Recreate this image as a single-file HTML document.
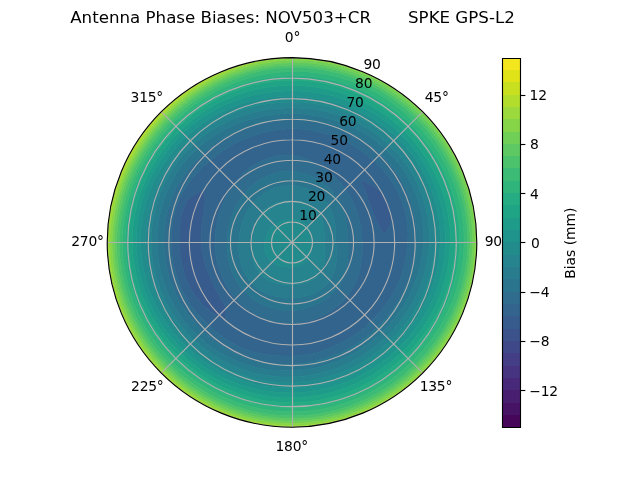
<!DOCTYPE html>
<html lang="en"><head><meta charset="utf-8"><title>Antenna Phase Biases</title>
<style>html,body{margin:0;padding:0;background:#fff;overflow:hidden}svg{display:block}
text{font-family:"DejaVu Sans","Liberation Sans",sans-serif;white-space:pre}</style></head><body>
<svg  width="640" height="480" viewBox="0 0 460.8 345.6"  version="1.1">
 
 <defs>
  <style type="text/css">*{stroke-linejoin: round; stroke-linecap: butt}</style>
 </defs>
 <g id="figure_1">
  <g id="patch_1">
   <path d="M 0 345.6 
L 460.8 345.6 
L 460.8 0 
L 0 0 
z
" style="fill: #ffffff"/>
  </g>
  <g id="axes_1">
   <g id="patch_2">
    <path d="M 343.296 174.528 
C 343.296 157.055246 339.854248 139.752393 333.167715 123.609673 
C 326.481182 107.466954 316.679903 92.798303 304.3248 80.4432 
C 291.969697 68.088097 277.301046 58.286818 261.158327 51.600285 
C 245.015607 44.913752 227.712754 41.472 210.24 41.472 
C 192.767246 41.472 175.464393 44.913752 159.321673 51.600285 
C 143.178954 58.286818 128.510303 68.088097 116.1552 80.4432 
C 103.800097 92.798303 93.998818 107.466954 87.312285 123.609673 
C 80.625752 139.752393 77.184 157.055246 77.184 174.528 
C 77.184 192.000754 80.625752 209.303607 87.312285 225.446327 
C 93.998818 241.589046 103.800097 256.257697 116.1552 268.6128 
C 128.510303 280.967903 143.178954 290.769182 159.321673 297.455715 
C 175.464393 304.142248 192.767246 307.584 210.24 307.584 
C 227.712754 307.584 245.015607 304.142248 261.158327 297.455715 
C 277.301046 290.769182 291.969697 280.967903 304.3248 268.6128 
C 316.679903 256.257697 326.481182 241.589046 333.167715 225.446327 
C 339.854248 209.303607 343.296 192.000754 343.296 174.528 
M 210.24 174.528 
C 210.24 174.528 210.24 174.528 210.24 174.528 
C 210.24 174.528 210.24 174.528 210.24 174.528 
C 210.24 174.528 210.24 174.528 210.24 174.528 
C 210.24 174.528 210.24 174.528 210.24 174.528 
C 210.24 174.528 210.24 174.528 210.24 174.528 
C 210.24 174.528 210.24 174.528 210.24 174.528 
C 210.24 174.528 210.24 174.528 210.24 174.528 
C 210.24 174.528 210.24 174.528 210.24 174.528 
C 210.24 174.528 210.24 174.528 210.24 174.528 
C 210.24 174.528 210.24 174.528 210.24 174.528 
C 210.24 174.528 210.24 174.528 210.24 174.528 
C 210.24 174.528 210.24 174.528 210.24 174.528 
C 210.24 174.528 210.24 174.528 210.24 174.528 
C 210.24 174.528 210.24 174.528 210.24 174.528 
C 210.24 174.528 210.24 174.528 210.24 174.528 
C 210.24 174.528 210.24 174.528 210.24 174.528 
z
" style="fill: #ffffff"/>
   </g>
   <g id="QuadContourSet_1">
    <path clip-path="url(#p66e2880055)" style="fill: #46075a; stroke: #46075a; stroke-width: 0.6"/>
    <path clip-path="url(#p66e2880055)" style="fill: #471365; stroke: #471365; stroke-width: 0.6"/>
    <path clip-path="url(#p66e2880055)" style="fill: #481f70; stroke: #481f70; stroke-width: 0.6"/>
    <path clip-path="url(#p66e2880055)" style="fill: #482979; stroke: #482979; stroke-width: 0.6"/>
    <path clip-path="url(#p66e2880055)" style="fill: #463480; stroke: #463480; stroke-width: 0.6"/>
    <path clip-path="url(#p66e2880055)" style="fill: #433e85; stroke: #433e85; stroke-width: 0.6"/>
    <path clip-path="url(#p66e2880055)" style="fill: #3f4889; stroke: #3f4889; stroke-width: 0.6"/>
    <path clip-path="url(#p66e2880055)" style="fill: #3b528b; stroke: #3b528b; stroke-width: 0.6"/>
    <path d="M 260.788544 132.112735 
L 263.067125 137.538049 
L 264.967466 142.931083 
L 266.79526 148.155849 
L 268.713859 153.245256 
L 270.83728 158.291008 
L 273.337498 163.402209 
L 276.384964 168.741065 
L 276.541145 169.038647 
L 276.800796 168.704685 
L 280.918313 162.065506 
L 282.002235 156.798139 
L 281.933389 155.317814 
L 280.571942 148.929267 
L 277.897983 142.978565 
L 274.709691 138.364131 
L 274.057517 137.682939 
L 268.520452 133.719588 
L 262.224507 130.907819 
L 259.619358 129.944889 
z
M 159.844202 216.815096 
L 157.056222 211.767682 
L 154.515341 206.700647 
L 152.144773 201.618249 
L 149.953046 196.470657 
L 148.027807 191.197707 
L 146.495194 185.767929 
L 145.443394 180.196968 
L 144.882078 174.528 
L 144.791866 168.80203 
L 145.177066 163.055649 
L 145.979619 157.309483 
L 145.980521 157.303187 
L 146.934519 151.486689 
L 147.672667 145.352373 
L 147.367073 138.228298 
L 147.107457 136.077403 
L 145.354122 137.066121 
L 138.448534 141.05109 
L 134.710906 144.411605 
L 133.512139 146.601342 
L 131.127814 153.329954 
L 129.843842 160.351988 
L 129.233263 167.440829 
L 129.21907 167.654122 
L 129.213174 174.528 
L 129.597882 181.583271 
L 130.592824 188.571946 
L 132.23106 195.430432 
L 134.535335 202.082244 
L 137.574028 208.412699 
L 141.404045 214.270457 
L 146.004639 219.506084 
L 151.239401 224.035381 
L 156.879112 227.888888 
L 162.723388 231.156093 
L 162.735698 231.162863 
L 162.732693 231.145004 
L 162.289159 222.478841 
L 162.201302 220.55254 
z
" clip-path="url(#p66e2880055)" style="fill: #375b8d; stroke: #375b8d; stroke-width: 0.6"/>
    <path d="M 256.993448 152.726509 
L 258.322591 157.027368 
L 259.340021 161.371689 
L 260.076383 165.740501 
L 260.566615 170.124992 
L 260.841066 174.528 
L 260.904708 178.960588 
L 260.711798 183.42754 
L 260.202568 187.91543 
L 260.179333 188.074384 
L 259.558433 192.478442 
L 258.465432 197.015888 
L 256.893167 201.463219 
L 254.848557 205.763248 
L 252.3544 209.866177 
L 249.441999 213.729999 
L 246.146828 217.320092 
L 242.504494 220.606473 
L 238.548641 223.560005 
L 234.312643 226.15195 
L 229.83109 228.354079 
L 225.140902 230.138924 
L 220.282226 231.480294 
L 215.299133 232.35415 
L 210.24 232.739907 
L 205.157244 232.624171 
L 200.104644 232.008462 
L 195.134309 230.903207 
L 190.295698 229.324519 
L 185.635386 227.292764 
L 181.197591 224.830928 
L 177.02556 221.963136 
L 173.162824 218.714858 
L 169.65111 215.11689 
L 166.520708 211.212842 
L 163.775827 207.062564 
L 161.401749 202.724778 
L 159.384149 198.242473 
L 157.724058 193.64224 
L 156.435316 188.944922 
L 155.527939 184.175213 
L 154.994235 179.361378 
L 154.809617 174.528 
L 154.948359 169.690608 
L 155.408085 164.859654 
L 156.195375 160.046786 
L 157.318527 155.266159 
L 158.788876 150.535947 
L 160.621875 145.880962 
L 162.832887 141.333182 
L 165.432296 136.929872 
L 168.424611 132.712611 
L 168.425152 132.711915 
L 171.641666 128.528297 
L 175.297737 124.625277 
L 179.39367 121.100589 
L 183.901659 118.045245 
L 188.769255 115.537612 
L 193.925272 113.640606 
L 199.285524 112.402077 
L 204.757017 111.857219 
L 210.24 112.032055 
L 210.24 108 
L 210.24 100.608 
L 210.24 93.216 
L 210.24 92.691421 
L 203.110383 93.036103 
L 196.038221 93.98571 
L 189.070159 95.521076 
L 182.246922 97.61765 
L 175.602248 100.247102 
L 169.16275 103.380116 
L 162.949637 106.990362 
L 156.982749 111.058479 
L 151.283579 115.571579 
L 145.871176 120.516143 
L 140.758429 125.87648 
L 135.992046 131.660924 
L 131.77739 137.940284 
L 128.388111 144.736349 
L 125.94358 151.940842 
L 124.369966 159.386796 
L 123.499759 166.939212 
L 123.247004 174.528 
L 123.649731 182.103667 
L 124.743072 189.603415 
L 126.523915 196.959657 
L 128.979342 204.104461 
L 132.102997 210.963883 
L 135.881779 217.458739 
L 140.267597 223.523204 
L 145.159914 229.136676 
L 150.428956 234.339044 
L 155.987912 239.183121 
L 161.848799 243.637797 
L 168.069597 247.56928 
L 174.667593 250.813272 
L 181.580937 253.268128 
L 188.692514 254.944313 
L 195.88412 255.94424 
L 203.078398 256.385485 
L 210.24 256.32714 
L 217.346922 255.760487 
L 224.368521 254.654825 
L 226.97376 254.099494 
L 231.21785 252.818403 
L 237.855545 250.401086 
L 244.271955 247.509763 
L 250.439993 244.156431 
L 256.33436 240.357569 
L 261.93227 236.132449 
L 267.215998 231.503998 
L 272.172738 226.495738 
L 276.781249 221.120684 
L 277.50999 220.205016 
L 280.796554 215.263845 
L 284.287586 209.056956 
L 287.270472 202.564799 
L 289.724365 195.825771 
L 291.628968 188.879071 
L 292.959423 181.765012 
L 293.680544 174.528 
L 293.747224 167.222065 
L 293.118125 159.91435 
L 291.756809 152.685637 
L 289.643368 145.627537 
L 286.786235 138.833904 
L 283.226118 132.389445 
L 279.031911 126.359385 
L 274.290002 120.783667 
L 269.089637 115.678363 
L 263.508703 111.044832 
L 257.604275 106.884805 
L 251.415703 103.209591 
L 244.973873 100.04097 
L 238.309878 97.406645 
L 231.459891 95.334289 
L 224.466191 93.847262 
L 217.376037 92.962729 
L 210.24 92.691421 
L 210.24 93.216 
L 210.24 100.608 
L 210.24 108 
L 210.24 112.032055 
L 215.628828 112.933411 
L 220.822994 114.508857 
L 225.738315 116.6875 
L 228.614317 118.319006 
L 230.35061 119.274553 
L 234.700284 122.072752 
L 238.717791 125.20302 
L 242.390256 128.612676 
L 245.709268 132.257372 
L 248.669609 136.098391 
L 251.268901 140.100665 
L 253.504809 144.233654 
L 255.395408 148.457513 
L 256.511025 151.36696 
z
M 259.619358 129.944889 
L 262.224507 130.907819 
L 268.520452 133.719588 
L 274.057517 137.682939 
L 274.709691 138.364131 
L 277.897983 142.978565 
L 280.571942 148.929267 
L 281.933389 155.317814 
L 282.002235 156.798139 
L 280.918313 162.065506 
L 276.800796 168.704685 
L 276.541145 169.038647 
L 276.384964 168.741065 
L 273.337498 163.402209 
L 270.83728 158.291008 
L 268.713859 153.245256 
L 266.79526 148.155849 
L 264.967466 142.931083 
L 263.067125 137.538049 
L 260.788544 132.112735 
z
M 162.201302 220.55254 
L 162.289159 222.478841 
L 162.732693 231.145004 
L 162.735698 231.162863 
L 162.723388 231.156093 
L 156.879112 227.888888 
L 151.239401 224.035381 
L 146.004639 219.506084 
L 141.404045 214.270457 
L 137.574028 208.412699 
L 134.535335 202.082244 
L 132.23106 195.430432 
L 130.592824 188.571946 
L 129.597882 181.583271 
L 129.213174 174.528 
L 129.21907 167.654122 
L 129.233263 167.440829 
L 129.843842 160.351988 
L 131.127814 153.329954 
L 133.512139 146.601342 
L 134.710906 144.411605 
L 138.448534 141.05109 
L 145.354122 137.066121 
L 147.107457 136.077403 
L 147.367073 138.228298 
L 147.672667 145.352373 
L 146.934519 151.486689 
L 145.980521 157.303187 
L 145.979619 157.309483 
L 145.177066 163.055649 
L 144.791866 168.80203 
L 144.882078 174.528 
L 145.443394 180.196968 
L 146.495194 185.767929 
L 148.027807 191.197707 
L 149.953046 196.470657 
L 152.144773 201.618249 
L 154.515341 206.700647 
L 157.056222 211.767682 
L 159.844202 216.815096 
z
" clip-path="url(#p66e2880055)" style="fill: #32648e; stroke: #32648e; stroke-width: 0.6"/>
    <path d="M 246.259584 149.306816 
L 247.621724 152.945652 
L 248.648266 156.617932 
L 249.372368 160.284983 
L 249.844067 163.916122 
L 250.128727 167.494541 
L 250.301139 171.023104 
L 250.433993 174.528 
L 250.56396 178.055889 
L 250.630133 181.64987 
L 250.540185 185.326402 
L 250.205295 189.074178 
L 249.551571 192.859287 
L 248.525345 196.632054 
L 248.295698 197.306581 
L 247.138994 200.364953 
L 245.31413 203.95869 
L 243.053526 207.341526 
L 240.38966 210.458966 
L 237.376191 213.282497 
L 234.063811 215.792052 
L 230.497519 217.970391 
L 226.718847 219.803261 
L 222.76702 221.279476 
L 218.679514 222.390864 
L 214.492303 223.132044 
L 210.24 223.5 
L 205.956324 223.490637 
L 201.677028 223.091028 
L 197.441983 222.29085 
L 193.294025 221.086684 
L 189.277422 219.482395 
L 185.436559 217.488821 
L 181.81501 215.123093 
L 178.454995 212.407893 
L 175.39705 209.37095 
L 172.676214 206.047759 
L 170.309231 202.487825 
L 168.301915 198.740964 
L 166.653623 194.852661 
L 165.358587 190.863498 
L 164.406173 186.809137 
L 163.780591 182.720047 
L 163.461274 178.620608 
L 163.42431 174.528 
L 163.649679 170.451875 
L 164.139054 166.399159 
L 164.900475 162.379311 
L 165.942484 158.405023 
L 167.273462 154.492374 
L 168.900968 150.660899 
L 170.831061 146.933564 
L 173.067598 143.336651 
L 175.611567 139.899567 
L 178.461092 136.655373 
L 181.612724 133.644012 
L 185.058058 130.911596 
L 188.781107 128.509255 
L 192.756152 126.491523 
L 196.945811 124.91341 
L 201.299887 123.826097 
L 205.755641 123.271545 
L 210.24 123.2768 
L 210.24 122.784 
L 210.24 115.392 
L 210.24 112.032055 
L 204.757017 111.857219 
L 199.285524 112.402077 
L 193.925272 113.640606 
L 188.769255 115.537612 
L 183.901659 118.045245 
L 179.39367 121.100589 
L 175.297737 124.625277 
L 171.641666 128.528297 
L 168.425152 132.711915 
L 168.424611 132.712611 
L 165.432296 136.929872 
L 162.832887 141.333182 
L 160.621875 145.880962 
L 158.788876 150.535947 
L 157.318527 155.266159 
L 156.195375 160.046786 
L 155.408085 164.859654 
L 154.948359 169.690608 
L 154.809617 174.528 
L 154.994235 179.361378 
L 155.527939 184.175213 
L 156.435316 188.944922 
L 157.724058 193.64224 
L 159.384149 198.242473 
L 161.401749 202.724778 
L 163.775827 207.062564 
L 166.520708 211.212842 
L 169.65111 215.11689 
L 173.162824 218.714858 
L 177.02556 221.963136 
L 181.197591 224.830928 
L 185.635386 227.292764 
L 190.295698 229.324519 
L 195.134309 230.903207 
L 200.104644 232.008462 
L 205.157244 232.624171 
L 210.24 232.739907 
L 215.299133 232.35415 
L 220.282226 231.480294 
L 225.140902 230.138924 
L 229.83109 228.354079 
L 234.312643 226.15195 
L 238.548641 223.560005 
L 242.504494 220.606473 
L 246.146828 217.320092 
L 249.441999 213.729999 
L 252.3544 209.866177 
L 254.848557 205.763248 
L 256.893167 201.463219 
L 258.465432 197.015888 
L 259.558433 192.478442 
L 260.179333 188.074384 
L 260.202568 187.91543 
L 260.711798 183.42754 
L 260.904708 178.960588 
L 260.841066 174.528 
L 260.566615 170.124992 
L 260.076383 165.740501 
L 259.340021 161.371689 
L 258.322591 157.027368 
L 256.993448 152.726509 
L 256.511025 151.36696 
L 255.395408 148.457513 
L 253.504809 144.233654 
L 251.268901 140.100665 
L 248.669609 136.098391 
L 245.709268 132.257372 
L 242.390256 128.612676 
L 238.717791 125.20302 
L 234.700284 122.072752 
L 230.35061 119.274553 
L 228.614317 118.319006 
L 225.738315 116.6875 
L 220.822994 114.508857 
L 215.628828 112.933411 
L 210.24 112.032055 
L 210.24 115.392 
L 210.24 122.784 
L 210.24 123.2768 
L 214.674521 123.841194 
L 218.988084 124.915149 
L 223.125836 126.437405 
L 227.047071 128.350951 
L 230.721087 130.606167 
L 234.123152 133.161167 
L 237.231121 135.980684 
L 240.022637 139.034436 
L 242.472526 142.295474 
L 244.552575 145.736331 
L 245.501547 147.625896 
z
M 276.781249 221.120684 
L 272.172738 226.495738 
L 267.215998 231.503998 
L 261.93227 236.132449 
L 256.33436 240.357569 
L 250.439993 244.156431 
L 244.271955 247.509763 
L 237.855545 250.401086 
L 231.21785 252.818403 
L 226.97376 254.099494 
L 224.368521 254.654825 
L 217.346922 255.760487 
L 210.24 256.32714 
L 203.078398 256.385485 
L 195.88412 255.94424 
L 188.692514 254.944313 
L 181.580937 253.268128 
L 174.667593 250.813272 
L 168.069597 247.56928 
L 161.848799 243.637797 
L 155.987912 239.183121 
L 150.428956 234.339044 
L 145.159914 229.136676 
L 140.267597 223.523204 
L 135.881779 217.458739 
L 132.102997 210.963883 
L 128.979342 204.104461 
L 126.523915 196.959657 
L 124.743072 189.603415 
L 123.649731 182.103667 
L 123.247004 174.528 
L 123.499759 166.939212 
L 124.369966 159.386796 
L 125.94358 151.940842 
L 128.388111 144.736349 
L 131.77739 137.940284 
L 135.992046 131.660924 
L 140.758429 125.87648 
L 145.871176 120.516143 
L 151.283579 115.571579 
L 156.982749 111.058479 
L 162.949637 106.990362 
L 169.16275 103.380116 
L 175.602248 100.247102 
L 182.246922 97.61765 
L 189.070159 95.521076 
L 196.038221 93.98571 
L 203.110383 93.036103 
L 210.24 92.691421 
L 210.24 86.150452 
L 202.531587 86.420433 
L 194.85572 87.279411 
L 191.211707 87.888958 
L 187.261383 88.770633 
L 179.806374 90.912299 
L 172.52904 93.656584 
L 165.475283 96.993236 
L 158.69322 100.911569 
L 152.235359 105.400761 
L 146.160385 110.448385 
L 140.529928 116.034305 
L 135.394202 122.120408 
L 130.795311 128.660587 
L 126.798903 135.618777 
L 123.505391 142.959184 
L 120.990594 150.613694 
L 119.252748 158.484492 
L 118.246523 166.479614 
L 117.951383 174.528 
L 118.378406 182.564848 
L 119.53475 190.521783 
L 121.412395 198.329285 
L 123.993919 205.919006 
L 127.256082 213.224036 
L 131.166633 220.18103 
L 135.678325 226.736647 
L 140.728054 232.855448 
L 146.247796 238.520204 
L 152.184953 243.715311 
L 158.514881 248.399126 
L 165.225388 252.495595 
L 172.287481 255.91744 
L 179.638747 258.60425 
L 187.190716 260.549098 
L 193.293846 261.598245 
L 194.856993 261.76937 
L 202.564184 262.262976 
L 210.24 262.182551 
L 217.851791 261.531166 
L 225.362973 260.294643 
L 232.730615 258.46412 
L 239.909431 256.044091 
L 246.855572 253.050348 
L 253.52834 249.505603 
L 259.890714 245.436568 
L 265.90966 240.872517 
L 271.556544 235.844544 
L 276.805055 230.382713 
L 281.621861 224.510117 
L 285.971718 218.251728 
L 289.82003 211.636778 
L 293.132783 204.698506 
L 295.875623 197.473996 
L 296.123904 196.717066 
L 297.907315 189.986113 
L 299.273043 182.317382 
L 299.951213 174.528 
L 299.911305 166.682777 
L 299.13512 158.853392 
L 297.613233 151.116413 
L 295.346811 143.551654 
L 292.35088 136.239068 
L 288.65562 129.254721 
L 284.305409 122.666842 
L 279.355834 116.532929 
L 273.86923 110.89877 
L 267.911305 105.798016 
L 261.54954 101.250383 
L 254.844408 97.2709 
L 247.849527 93.874109 
L 240.614738 91.074093 
L 235.205036 89.409573 
L 233.183316 88.902379 
L 225.605755 87.384475 
L 217.944163 86.469017 
L 210.24 86.150452 
L 210.24 92.691421 
L 217.376037 92.962729 
L 224.466191 93.847262 
L 231.459891 95.334289 
L 238.309878 97.406645 
L 244.973873 100.04097 
L 251.415703 103.209591 
L 257.604275 106.884805 
L 263.508703 111.044832 
L 269.089637 115.678363 
L 274.290002 120.783667 
L 279.031911 126.359385 
L 283.226118 132.389445 
L 286.786235 138.833904 
L 289.643368 145.627537 
L 291.756809 152.685637 
L 293.118125 159.91435 
L 293.747224 167.222065 
L 293.680544 174.528 
L 292.959423 181.765012 
L 291.628968 188.879071 
L 289.724365 195.825771 
L 287.270472 202.564799 
L 284.287586 209.056956 
L 280.796554 215.263845 
L 277.50999 220.205016 
z
" clip-path="url(#p66e2880055)" style="fill: #2f6c8e; stroke: #2f6c8e; stroke-width: 0.6"/>
    <path d="M 238.270392 151.007708 
L 239.500191 154.039793 
L 240.402254 157.113814 
L 241.019168 160.175438 
L 241.403365 163.185463 
L 241.614766 166.121157 
L 241.717978 168.977583 
L 241.77899 171.768696 
L 241.861333 174.528 
L 242.002943 177.306897 
L 242.156848 180.155801 
L 242.250039 183.105064 
L 242.206705 186.162929 
L 241.952482 189.315773 
L 241.418436 192.528879 
L 240.580788 195.634354 
L 240.543043 195.746419 
L 239.22228 198.84702 
L 237.475074 201.763074 
L 235.322402 204.420043 
L 232.825355 206.78323 
L 230.046736 208.834273 
L 227.043085 210.562332 
L 223.865763 211.964476 
L 220.560855 213.045955 
L 217.168244 213.820026 
L 213.720207 214.30695 
L 210.24 214.531765 
L 206.741812 214.51247 
L 203.239025 214.232504 
L 199.75269 213.667174 
L 196.311892 212.795162 
L 192.952557 211.601041 
L 189.715873 210.076831 
L 186.646713 208.222706 
L 183.792333 206.047102 
L 181.201528 203.566472 
L 178.918897 200.809526 
L 176.965053 197.827369 
L 175.346817 194.673589 
L 174.061855 191.398146 
L 173.098912 188.046251 
L 172.438349 184.656922 
L 172.053187 181.261365 
L 171.910821 177.881369 
L 171.975532 174.528 
L 172.219399 171.201628 
L 172.648347 167.899577 
L 173.279261 164.6244 
L 174.130039 161.385049 
L 175.21742 158.196703 
L 176.555281 155.080119 
L 178.153429 152.060741 
L 180.016834 149.167753 
L 182.145233 146.433233 
L 184.531423 143.889711 
L 187.158214 141.563793 
L 190.005597 139.480986 
L 193.051832 137.667854 
L 196.272324 136.152125 
L 199.638333 134.962041 
L 203.115778 134.124529 
L 206.664682 133.661932 
L 210.24 133.587692 
L 210.24 130.176 
L 210.24 123.2768 
L 205.755641 123.271545 
L 201.299887 123.826097 
L 196.945811 124.91341 
L 192.756152 126.491523 
L 188.781107 128.509255 
L 185.058058 130.911596 
L 181.612724 133.644012 
L 178.461092 136.655373 
L 175.611567 139.899567 
L 173.067598 143.336651 
L 170.831061 146.933564 
L 168.900968 150.660899 
L 167.273462 154.492374 
L 165.942484 158.405023 
L 164.900475 162.379311 
L 164.139054 166.399159 
L 163.649679 170.451875 
L 163.42431 174.528 
L 163.461274 178.620608 
L 163.780591 182.720047 
L 164.406173 186.809137 
L 165.358587 190.863498 
L 166.653623 194.852661 
L 168.301915 198.740964 
L 170.309231 202.487825 
L 172.676214 206.047759 
L 175.39705 209.37095 
L 178.454995 212.407893 
L 181.81501 215.123093 
L 185.436559 217.488821 
L 189.277422 219.482395 
L 193.294025 221.086684 
L 197.441983 222.29085 
L 201.677028 223.091028 
L 205.956324 223.490637 
L 210.24 223.5 
L 214.492303 223.132044 
L 218.679514 222.390864 
L 222.76702 221.279476 
L 226.718847 219.803261 
L 230.497519 217.970391 
L 234.063811 215.792052 
L 237.376191 213.282497 
L 240.38966 210.458966 
L 243.053526 207.341526 
L 245.31413 203.95869 
L 247.138994 200.364953 
L 248.295698 197.306581 
L 248.525345 196.632054 
L 249.551571 192.859287 
L 250.205295 189.074178 
L 250.540185 185.326402 
L 250.630133 181.64987 
L 250.56396 178.055889 
L 250.433993 174.528 
L 250.301139 171.023104 
L 250.128727 167.494541 
L 249.844067 163.916122 
L 249.372368 160.284983 
L 248.648266 156.617932 
L 247.621724 152.945652 
L 246.259584 149.306816 
L 245.501547 147.625896 
L 244.552575 145.736331 
L 242.472526 142.295474 
L 240.022637 139.034436 
L 237.231121 135.980684 
L 234.123152 133.161167 
L 230.721087 130.606167 
L 227.047071 128.350951 
L 223.125836 126.437405 
L 218.988084 124.915149 
L 214.674521 123.841194 
L 210.24 123.2768 
L 210.24 130.176 
L 210.24 133.587692 
L 213.794302 133.902144 
L 217.281758 134.592206 
L 220.660659 135.637573 
L 223.893491 137.015342 
L 226.945724 138.702458 
L 229.78413 140.676575 
L 232.375006 142.915935 
L 234.682273 145.398834 
L 236.665052 148.102948 
L 237.569491 149.645466 
z
M 217.944163 86.469017 
L 225.605755 87.384475 
L 233.183316 88.902379 
L 235.205036 89.409573 
L 240.614738 91.074093 
L 247.849527 93.874109 
L 254.844408 97.2709 
L 261.54954 101.250383 
L 267.911305 105.798016 
L 273.86923 110.89877 
L 279.355834 116.532929 
L 284.305409 122.666842 
L 288.65562 129.254721 
L 292.35088 136.239068 
L 295.346811 143.551654 
L 297.613233 151.116413 
L 299.13512 158.853392 
L 299.911305 166.682777 
L 299.951213 174.528 
L 299.273043 182.317382 
L 297.907315 189.986113 
L 296.123904 196.717066 
L 295.875623 197.473996 
L 293.132783 204.698506 
L 289.82003 211.636778 
L 285.971718 218.251728 
L 281.621861 224.510117 
L 276.805055 230.382713 
L 271.556544 235.844544 
L 265.90966 240.872517 
L 259.890714 245.436568 
L 253.52834 249.505603 
L 246.855572 253.050348 
L 239.909431 256.044091 
L 232.730615 258.46412 
L 225.362973 260.294643 
L 217.851791 261.531166 
L 210.24 262.182551 
L 202.564184 262.262976 
L 194.856993 261.76937 
L 193.293846 261.598245 
L 187.190716 260.549098 
L 179.638747 258.60425 
L 172.287481 255.91744 
L 165.225388 252.495595 
L 158.514881 248.399126 
L 152.184953 243.715311 
L 146.247796 238.520204 
L 140.728054 232.855448 
L 135.678325 226.736647 
L 131.166633 220.18103 
L 127.256082 213.224036 
L 123.993919 205.919006 
L 121.412395 198.329285 
L 119.53475 190.521783 
L 118.378406 182.564848 
L 117.951383 174.528 
L 118.246523 166.479614 
L 119.252748 158.484492 
L 120.990594 150.613694 
L 123.505391 142.959184 
L 126.798903 135.618777 
L 130.795311 128.660587 
L 135.394202 122.120408 
L 140.529928 116.034305 
L 146.160385 110.448385 
L 152.235359 105.400761 
L 158.69322 100.911569 
L 165.475283 96.993236 
L 172.52904 93.656584 
L 179.806374 90.912299 
L 187.261383 88.770633 
L 191.211707 87.888958 
L 194.85572 87.279411 
L 202.531587 86.420433 
L 210.24 86.150452 
L 210.24 85.824 
L 210.24 81.811004 
L 202.151967 82.081365 
L 194.094344 82.961433 
L 186.105812 84.457985 
L 178.227643 86.574772 
L 170.504274 89.31446 
L 162.985153 92.680204 
L 155.727758 96.676451 
L 148.801294 101.308201 
L 142.291258 106.576475 
L 142.289801 106.577801 
L 136.37398 112.54705 
L 131.035137 119.068158 
L 126.321338 126.077538 
L 122.275307 133.50939 
L 118.935706 141.295955 
L 116.33362 149.365861 
L 114.487467 157.644245 
L 113.404693 166.056008 
L 113.08695 174.528 
L 113.531755 182.988875 
L 114.733342 191.368401 
L 116.679622 199.597428 
L 119.352011 207.608523 
L 122.726007 215.336445 
L 126.771326 222.718661 
L 131.451849 229.696057 
L 133.481958 232.343606 
L 136.758642 236.18618 
L 142.629475 242.138525 
L 148.980625 247.53408 
L 155.753419 252.342903 
L 162.897813 256.527073 
L 170.364697 260.040864 
L 178.095311 262.844808 
L 186.018908 264.922345 
L 194.060637 266.285725 
L 202.152906 266.963906 
L 210.24 266.981674 
L 218.273367 266.349805 
L 226.205375 265.072139 
L 233.987507 263.154903 
L 241.57167 260.611056 
L 248.911833 257.460014 
L 255.96493 253.725902 
L 262.691231 249.436121 
L 269.054565 244.620469 
L 275.022524 239.310524 
L 280.564308 233.537101 
L 285.642208 227.325194 
L 290.216237 220.702302 
L 294.246539 213.700892 
L 297.69368 206.358536 
L 300.518743 198.718116 
L 302.683313 190.82825 
L 304.149752 182.744039 
L 304.88233 174.528 
L 304.851446 166.250571 
L 304.04217 157.988147 
L 302.450258 149.820336 
L 300.081315 141.828435 
L 296.951016 134.093989 
L 293.084983 126.697427 
L 288.519008 119.716449 
L 283.299674 113.223655 
L 277.484611 107.283389 
L 271.144586 101.944741 
L 264.365851 97.228274 
L 257.229076 93.140533 
L 249.803755 89.683253 
L 242.149799 86.856547 
L 234.320135 84.659711 
L 226.362888 83.090558 
L 218.322543 82.144113 
L 210.24 81.811004 
L 210.24 85.824 
L 210.24 86.150452 
z
" clip-path="url(#p66e2880055)" style="fill: #2b748e; stroke: #2b748e; stroke-width: 0.6"/>
    <path d="M 228.909412 152.278661 
L 230.276578 154.491422 
L 231.301158 156.85559 
L 232.042363 159.261821 
L 232.570458 161.635504 
L 232.942802 163.941509 
L 233.202092 166.170482 
L 233.37929 168.327846 
L 233.498106 170.426968 
L 233.579755 172.486036 
L 233.648 174.528 
L 233.723777 176.582564 
L 233.793731 178.681158 
L 233.839125 180.851366 
L 233.840673 183.117943 
L 233.771995 185.50115 
L 233.592177 188.010386 
L 233.237964 190.631348 
L 232.618875 193.306106 
L 232.286174 194.231625 
L 231.4552 195.7432 
L 229.828502 197.872668 
L 227.88308 199.72493 
L 225.686029 201.281307 
L 223.301003 202.537412 
L 220.786066 203.503079 
L 218.191019 204.201608 
L 215.554488 204.667957 
L 212.901191 204.945556 
L 210.24 205.0816 
L 207.564622 205.107709 
L 204.867679 204.995948 
L 202.15481 204.702341 
L 199.44552 204.185591 
L 196.771572 203.411137 
L 194.174774 202.353788 
L 191.704743 200.99909 
L 189.417069 199.343802 
L 187.372167 197.395833 
L 185.626342 195.181311 
L 184.200301 192.761194 
L 183.094874 190.200246 
L 182.29782 187.557652 
L 181.783707 184.885244 
L 181.514523 182.224968 
L 181.461329 181.314363 
L 181.385824 179.61577 
L 181.363064 177.054404 
L 181.450105 174.528 
L 181.634399 172.025334 
L 181.930271 169.536231 
L 182.353767 167.055906 
L 182.917865 164.583556 
L 183.63573 162.122225 
L 184.185749 160.547921 
L 184.531536 159.685211 
L 185.662866 157.318906 
L 187.043943 155.064197 
L 188.6789 152.9669 
L 190.558058 151.071975 
L 192.647488 149.40329 
L 194.909377 147.974582 
L 197.307319 146.793777 
L 199.806575 145.862401 
L 202.374935 145.175177 
L 204.984065 144.720113 
L 207.611095 144.479483 
L 210.24 144.432 
L 210.24 137.568 
L 210.24 133.587692 
L 206.664682 133.661932 
L 203.115778 134.124529 
L 199.638333 134.962041 
L 196.272324 136.152125 
L 193.051832 137.667854 
L 190.005597 139.480986 
L 187.158214 141.563793 
L 184.531423 143.889711 
L 182.145233 146.433233 
L 180.016834 149.167753 
L 178.153429 152.060741 
L 176.555281 155.080119 
L 175.21742 158.196703 
L 174.130039 161.385049 
L 173.279261 164.6244 
L 172.648347 167.899577 
L 172.219399 171.201628 
L 171.975532 174.528 
L 171.910821 177.881369 
L 172.053187 181.261365 
L 172.438349 184.656922 
L 173.098912 188.046251 
L 174.061855 191.398146 
L 175.346817 194.673589 
L 176.965053 197.827369 
L 178.918897 200.809526 
L 181.201528 203.566472 
L 183.792333 206.047102 
L 186.646713 208.222706 
L 189.715873 210.076831 
L 192.952557 211.601041 
L 196.311892 212.795162 
L 199.75269 213.667174 
L 203.239025 214.232504 
L 206.741812 214.51247 
L 210.24 214.531765 
L 213.720207 214.30695 
L 217.168244 213.820026 
L 220.560855 213.045955 
L 223.865763 211.964476 
L 227.043085 210.562332 
L 230.046736 208.834273 
L 232.825355 206.78323 
L 235.322402 204.420043 
L 237.475074 201.763074 
L 239.22228 198.84702 
L 240.543043 195.746419 
L 240.580788 195.634354 
L 241.418436 192.528879 
L 241.952482 189.315773 
L 242.206705 186.162929 
L 242.250039 183.105064 
L 242.156848 180.155801 
L 242.002943 177.306897 
L 241.861333 174.528 
L 241.77899 171.768696 
L 241.717978 168.977583 
L 241.614766 166.121157 
L 241.403365 163.185463 
L 241.019168 160.175438 
L 240.402254 157.113814 
L 239.500191 154.039793 
L 238.270392 151.007708 
L 237.569491 149.645466 
L 236.665052 148.102948 
L 234.682273 145.398834 
L 232.375006 142.915935 
L 229.78413 140.676575 
L 226.945724 138.702458 
L 223.893491 137.015342 
L 220.660659 135.637573 
L 217.281758 134.592206 
L 213.794302 133.902144 
L 210.24 133.587692 
L 210.24 137.568 
L 210.24 144.432 
L 212.861486 144.564281 
L 215.464703 144.897236 
L 218.029121 145.458606 
L 220.524882 146.270519 
L 222.914839 147.34672 
L 225.156796 148.691351 
L 227.205422 150.298866 
L 227.256667 150.347436 
z
M 218.322543 82.144113 
L 226.362888 83.090558 
L 234.320135 84.659711 
L 242.149799 86.856547 
L 249.803755 89.683253 
L 257.229076 93.140533 
L 264.365851 97.228274 
L 271.144586 101.944741 
L 277.484611 107.283389 
L 283.299674 113.223655 
L 288.519008 119.716449 
L 293.084983 126.697427 
L 296.951016 134.093989 
L 300.081315 141.828435 
L 302.450258 149.820336 
L 304.04217 157.988147 
L 304.851446 166.250571 
L 304.88233 174.528 
L 304.149752 182.744039 
L 302.683313 190.82825 
L 300.518743 198.718116 
L 297.69368 206.358536 
L 294.246539 213.700892 
L 290.216237 220.702302 
L 285.642208 227.325194 
L 280.564308 233.537101 
L 275.022524 239.310524 
L 269.054565 244.620469 
L 262.691231 249.436121 
L 255.96493 253.725902 
L 248.911833 257.460014 
L 241.57167 260.611056 
L 233.987507 263.154903 
L 226.205375 265.072139 
L 218.273367 266.349805 
L 210.24 266.981674 
L 202.152906 266.963906 
L 194.060637 266.285725 
L 186.018908 264.922345 
L 178.095311 262.844808 
L 170.364697 260.040864 
L 162.897813 256.527073 
L 155.753419 252.342903 
L 148.980625 247.53408 
L 142.629475 242.138525 
L 136.758642 236.18618 
L 133.481958 232.343606 
L 131.451849 229.696057 
L 126.771326 222.718661 
L 122.726007 215.336445 
L 119.352011 207.608523 
L 116.679622 199.597428 
L 114.733342 191.368401 
L 113.531755 182.988875 
L 113.08695 174.528 
L 113.404693 166.056008 
L 114.487467 157.644245 
L 116.33362 149.365861 
L 118.935706 141.295955 
L 122.275307 133.50939 
L 126.321338 126.077538 
L 131.035137 119.068158 
L 136.37398 112.54705 
L 142.289801 106.577801 
L 142.291258 106.576475 
L 148.801294 101.308201 
L 155.727758 96.676451 
L 162.985153 92.680204 
L 170.504274 89.31446 
L 178.227643 86.574772 
L 186.105812 84.457985 
L 194.094344 82.961433 
L 202.151967 82.081365 
L 210.24 81.811004 
L 210.24 78.432 
L 210.24 77.610635 
L 201.783305 77.867537 
L 193.350746 78.74428 
L 184.982387 80.265306 
L 176.727238 82.452444 
L 168.642722 85.32235 
L 160.793616 88.884351 
L 153.250636 93.138754 
L 146.088841 98.075626 
L 139.385985 103.673985 
L 133.217701 109.898618 
L 127.644789 116.69421 
L 122.719309 123.997906 
L 118.487593 131.74315 
L 114.990151 139.85989 
L 112.259963 148.274328 
L 110.320545 156.909504 
L 109.186274 165.686945 
L 108.863641 174.528 
L 109.351078 183.354637 
L 110.638192 192.090486 
L 112.707012 200.661885 
L 115.533166 208.998469 
L 119.08671 217.033477 
L 123.332637 224.70399 
L 128.231147 231.951217 
L 133.737942 238.720848 
L 139.80487 244.96313 
L 146.380804 250.632427 
L 153.411907 255.686928 
L 160.842065 260.087733 
L 168.611857 263.799841 
L 176.65726 266.795819 
L 184.910333 269.059602 
L 193.302202 270.587026 
L 201.766323 271.382567 
L 210.24 271.455299 
L 218.6642 270.817051 
L 226.983003 269.482287 
L 235.143363 267.468616 
L 241.406533 265.429531 
L 243.094342 264.794563 
L 250.787152 261.481649 
L 258.181289 257.564748 
L 265.236842 253.07163 
L 271.91738 248.032239 
L 278.188145 242.480121 
L 278.190165 242.478165 
L 284.008436 236.427067 
L 289.337369 229.912574 
L 294.132055 222.9631 
L 298.347183 215.613054 
L 301.937798 207.903269 
L 304.8602 199.881406 
L 307.073015 191.602273 
L 308.538465 183.128001 
L 309.223858 174.528 
L 309.105303 165.878407 
L 308.175469 157.259334 
L 306.438414 148.751713 
L 303.907469 140.435829 
L 300.604849 132.390179 
L 296.561083 124.6905 
L 291.814351 117.409024 
L 286.409778 110.613967 
L 280.398774 104.369226 
L 273.841031 98.731243 
L 266.809963 93.73772 
L 259.381198 89.412949 
L 251.628299 85.770506 
L 243.621271 82.813711 
L 235.424962 80.536443 
L 227.097484 78.924456 
L 218.688844 77.957266 
L 210.24 77.610635 
L 210.24 78.432 
L 210.24 81.811004 
z
" clip-path="url(#p66e2880055)" style="fill: #287c8e; stroke: #287c8e; stroke-width: 0.6"/>
    <path d="M 224.061971 169.497214 
L 224.201408 170.787052 
L 224.28538 172.05142 
L 224.33031 173.295258 
L 224.352 174.528 
L 224.361225 175.763447 
L 224.347592 177.015549 
L 224.295438 178.294143 
L 224.21817 179.342293 
L 224.173613 179.59942 
L 223.918787 180.906523 
L 223.582839 182.231492 
L 223.149777 183.567523 
L 222.597715 184.897354 
L 221.900082 186.188082 
L 221.03564 187.393743 
L 220.0107 188.482005 
L 218.845582 189.433305 
L 217.56582 190.238271 
L 216.197768 190.896834 
L 214.765132 191.416021 
L 213.286856 191.807578 
L 211.776144 192.086205 
L 210.24 192.2688 
L 208.679075 192.369454 
L 207.091699 192.382903 
L 205.478498 192.298168 
L 203.8433 192.102789 
L 202.194221 191.78223 
L 200.545284 191.319741 
L 198.918341 190.697005 
L 197.344755 189.895955 
L 195.865933 188.902067 
L 194.527433 187.712409 
L 193.359089 186.348141 
L 192.378662 184.840248 
L 191.595142 183.22224 
L 191.010069 181.527123 
L 190.619416 179.78532 
L 190.415495 178.023595 
L 190.388564 176.264776 
L 190.528 174.528 
L 190.823727 172.829296 
L 191.267972 171.18272 
L 191.852292 169.601029 
L 192.566922 168.095526 
L 193.401021 166.675855 
L 194.34297 165.349845 
L 195.380708 164.123412 
L 196.502107 163.000539 
L 197.69536 161.98336 
L 198.949623 161.072653 
L 200.25602 160.269399 
L 201.606661 159.574619 
L 202.994153 158.989231 
L 204.41141 158.514082 
L 205.851507 158.149921 
L 207.307566 157.897339 
L 208.7727 157.75669 
L 210.24 157.728 
L 210.24 152.352 
L 210.24 144.96 
L 210.24 144.432 
L 207.611095 144.479483 
L 204.984065 144.720113 
L 202.374935 145.175177 
L 199.806575 145.862401 
L 197.307319 146.793777 
L 194.909377 147.974582 
L 192.647488 149.40329 
L 190.558058 151.071975 
L 188.6789 152.9669 
L 187.043943 155.064197 
L 185.662866 157.318906 
L 184.531536 159.685211 
L 184.185749 160.547921 
L 183.63573 162.122225 
L 182.917865 164.583556 
L 182.353767 167.055906 
L 181.930271 169.536231 
L 181.634399 172.025334 
L 181.450105 174.528 
L 181.363064 177.054404 
L 181.385824 179.61577 
L 181.461329 181.314363 
L 181.514523 182.224968 
L 181.783707 184.885244 
L 182.29782 187.557652 
L 183.094874 190.200246 
L 184.200301 192.761194 
L 185.626342 195.181311 
L 187.372167 197.395833 
L 189.417069 199.343802 
L 191.704743 200.99909 
L 194.174774 202.353788 
L 196.771572 203.411137 
L 199.44552 204.185591 
L 202.15481 204.702341 
L 204.867679 204.995948 
L 207.564622 205.107709 
L 210.24 205.0816 
L 212.901191 204.945556 
L 215.554488 204.667957 
L 218.191019 204.201608 
L 220.786066 203.503079 
L 223.301003 202.537412 
L 225.686029 201.281307 
L 227.88308 199.72493 
L 229.828502 197.872668 
L 231.4552 195.7432 
L 232.286174 194.231625 
L 232.618875 193.306106 
L 233.237964 190.631348 
L 233.592177 188.010386 
L 233.771995 185.50115 
L 233.840673 183.117943 
L 233.839125 180.851366 
L 233.793731 178.681158 
L 233.723777 176.582564 
L 233.648 174.528 
L 233.579755 172.486036 
L 233.498106 170.426968 
L 233.37929 168.327846 
L 233.202092 166.170482 
L 232.942802 163.941509 
L 232.570458 161.635504 
L 232.042363 159.261821 
L 231.301158 156.85559 
L 230.276578 154.491422 
L 228.909412 152.278661 
L 227.256667 150.347436 
L 227.205422 150.298866 
L 225.156796 148.691351 
L 222.914839 147.34672 
L 220.524882 146.270519 
L 218.029121 145.458606 
L 215.464703 144.897236 
L 212.861486 144.564281 
L 210.24 144.432 
L 210.24 144.96 
L 210.24 152.352 
L 210.24 157.728 
L 211.702402 157.812669 
L 213.151057 158.018578 
L 214.573761 158.354184 
L 215.955046 158.82604 
L 217.276652 159.437852 
L 218.518396 160.189398 
L 219.659529 161.075519 
L 220.680517 162.085476 
L 221.565022 163.202978 
L 222.305086 164.40419 
L 222.911518 165.655308 
L 223.400435 166.929819 
L 223.78685 168.211 
L 224.01913 169.170553 
z
M 271.91738 248.032239 
L 265.236842 253.07163 
L 258.181289 257.564748 
L 250.787152 261.481649 
L 243.094342 264.794563 
L 241.406533 265.429531 
L 235.143363 267.468616 
L 226.983003 269.482287 
L 218.6642 270.817051 
L 210.24 271.455299 
L 201.766323 271.382567 
L 193.302202 270.587026 
L 184.910333 269.059602 
L 176.65726 266.795819 
L 168.611857 263.799841 
L 160.842065 260.087733 
L 153.411907 255.686928 
L 146.380804 250.632427 
L 139.80487 244.96313 
L 133.737942 238.720848 
L 128.231147 231.951217 
L 123.332637 224.70399 
L 119.08671 217.033477 
L 115.533166 208.998469 
L 112.707012 200.661885 
L 110.638192 192.090486 
L 109.351078 183.354637 
L 108.863641 174.528 
L 109.186274 165.686945 
L 110.320545 156.909504 
L 112.259963 148.274328 
L 114.990151 139.85989 
L 118.487593 131.74315 
L 122.719309 123.997906 
L 127.644789 116.69421 
L 133.217701 109.898618 
L 139.385985 103.673985 
L 146.088841 98.075626 
L 153.250636 93.138754 
L 160.793616 88.884351 
L 168.642722 85.32235 
L 176.727238 82.452444 
L 184.982387 80.265306 
L 193.350746 78.74428 
L 201.783305 77.867537 
L 210.24 77.610635 
L 210.24 73.503988 
L 201.424349 73.764644 
L 192.634808 74.683992 
L 183.915623 76.284089 
L 175.319227 78.583964 
L 166.905681 81.597252 
L 158.74164 85.330224 
L 150.89898 89.780241 
L 150.381185 90.108284 
L 143.488695 94.976892 
L 136.56513 100.85313 
L 130.195509 107.362697 
L 124.43757 114.448492 
L 119.34262 122.048373 
L 114.957233 130.096916 
L 111.322844 138.5251 
L 108.475128 147.260185 
L 106.44317 156.225818 
L 105.248492 165.342433 
L 104.903991 174.528 
L 105.41155 183.699301 
L 106.757941 192.774679 
L 108.920392 201.676507 
L 111.869521 210.331926 
L 115.570643 218.673046 
L 119.984747 226.636894 
L 125.069171 234.165256 
L 130.778037 241.204504 
L 137.06254 247.70546 
L 137.077819 247.719949 
L 143.895392 253.594425 
L 151.194985 258.853021 
L 158.904619 263.443488 
L 166.964555 267.332492 
L 175.311858 270.492282 
L 183.880631 272.902505 
L 192.603189 274.551328 
L 201.411788 275.434922 
L 210.24 275.555929 
L 219.023424 274.922996 
L 227.700621 273.552104 
L 236.213863 271.463777 
L 244.509243 268.681971 
L 252.536676 265.233515 
L 260.249823 261.147554 
L 267.605967 256.455091 
L 274.565924 251.188651 
L 281.093999 245.381999 
L 287.155303 239.067602 
L 292.705936 232.27127 
L 297.698425 225.022145 
L 302.084674 217.355875 
L 305.816815 209.315116 
L 308.848229 200.949995 
L 311.13481 192.318477 
L 312.636472 183.486531 
L 313.318922 174.528 
L 313.158215 165.523823 
L 312.150354 156.558455 
L 312.077665 156.119957 
L 310.294284 147.718535 
L 307.622927 139.083513 
L 304.161592 130.731642 
L 299.94226 122.738376 
L 295.546188 115.93943 
L 295.003108 115.176233 
L 289.383588 108.118645 
L 283.14292 101.62508 
L 276.341483 95.75132 
L 269.051512 90.536456 
L 261.347575 86.007083 
L 253.302818 82.179489 
L 244.987479 79.060085 
L 236.467349 76.646199 
L 227.802291 74.927299 
L 219.04497 73.886731 
L 210.24 73.503988 
L 210.24 77.610635 
L 218.688844 77.957266 
L 227.097484 78.924456 
L 235.424962 80.536443 
L 243.621271 82.813711 
L 251.628299 85.770506 
L 259.381198 89.412949 
L 266.809963 93.73772 
L 273.841031 98.731243 
L 280.398774 104.369226 
L 286.409778 110.613967 
L 291.814351 117.409024 
L 296.561083 124.6905 
L 300.604849 132.390179 
L 303.907469 140.435829 
L 306.438414 148.751713 
L 308.175469 157.259334 
L 309.105303 165.878407 
L 309.223858 174.528 
L 308.538465 183.128001 
L 307.073015 191.602273 
L 304.8602 199.881406 
L 301.937798 207.903269 
L 298.347183 215.613054 
L 294.132055 222.9631 
L 289.337369 229.912574 
L 284.008436 236.427067 
L 278.190165 242.478165 
L 278.188145 242.480121 
z
" clip-path="url(#p66e2880055)" style="fill: #25848e; stroke: #25848e; stroke-width: 0.6"/>
    <path d="M 210.24 174.528 
L 210.24 174.528 
L 210.24 174.528 
L 210.24 174.528 
L 210.24 174.528 
L 210.24 174.528 
L 210.24 174.528 
L 210.24 174.528 
L 210.24 174.528 
L 210.24 174.528 
L 210.24 174.528 
L 210.24 174.528 
L 210.24 174.528 
L 210.24 174.528 
L 210.24 174.528 
L 210.24 174.528 
L 210.24 174.528 
L 210.24 174.528 
L 210.24 174.528 
L 210.24 174.528 
L 210.24 174.528 
L 210.24 174.528 
L 210.24 174.528 
L 210.24 174.528 
L 210.24 174.528 
L 210.24 174.528 
L 210.24 174.528 
L 210.24 174.528 
L 210.24 174.528 
L 210.24 174.528 
L 210.24 174.528 
L 210.24 174.528 
L 210.24 174.528 
L 210.24 174.528 
L 210.24 174.528 
L 210.24 174.528 
L 210.24 174.528 
L 210.24 174.528 
L 210.24 174.528 
L 210.24 174.528 
L 210.24 174.528 
L 210.24 174.528 
L 210.24 174.528 
L 210.24 174.528 
L 210.24 174.528 
L 210.24 174.528 
L 210.24 174.528 
L 210.24 174.528 
L 210.24 174.528 
L 210.24 174.528 
L 210.24 174.528 
L 210.24 174.528 
L 210.24 174.528 
L 210.24 174.528 
L 210.24 174.528 
L 210.24 174.528 
L 210.24 174.528 
L 210.24 174.528 
L 210.24 174.528 
L 210.24 174.528 
L 210.24 174.528 
L 210.24 174.528 
L 210.24 174.528 
L 210.24 174.528 
L 210.24 174.528 
L 210.24 174.528 
L 210.24 174.528 
L 210.24 174.528 
L 210.24 174.528 
L 210.24 174.528 
L 210.24 174.528 
L 210.24 174.528 
L 210.24 167.136 
L 210.24 159.744 
L 210.24 157.728 
L 208.7727 157.75669 
L 207.307566 157.897339 
L 205.851507 158.149921 
L 204.41141 158.514082 
L 202.994153 158.989231 
L 201.606661 159.574619 
L 200.25602 160.269399 
L 198.949623 161.072653 
L 197.69536 161.98336 
L 196.502107 163.000539 
L 195.380708 164.123412 
L 194.34297 165.349845 
L 193.401021 166.675855 
L 192.566922 168.095526 
L 191.852292 169.601029 
L 191.267972 171.18272 
L 190.823727 172.829296 
L 190.528 174.528 
L 190.388564 176.264776 
L 190.415495 178.023595 
L 190.619416 179.78532 
L 191.010069 181.527123 
L 191.595142 183.22224 
L 192.378662 184.840248 
L 193.359089 186.348141 
L 194.527433 187.712409 
L 195.865933 188.902067 
L 197.344755 189.895955 
L 198.918341 190.697005 
L 200.545284 191.319741 
L 202.194221 191.78223 
L 203.8433 192.102789 
L 205.478498 192.298168 
L 207.091699 192.382903 
L 208.679075 192.369454 
L 210.24 192.2688 
L 211.776144 192.086205 
L 213.286856 191.807578 
L 214.765132 191.416021 
L 216.197768 190.896834 
L 217.56582 190.238271 
L 218.845582 189.433305 
L 220.0107 188.482005 
L 221.03564 187.393743 
L 221.900082 186.188082 
L 222.597715 184.897354 
L 223.149777 183.567523 
L 223.582839 182.231492 
L 223.918787 180.906523 
L 224.173613 179.59942 
L 224.21817 179.342293 
L 224.295438 178.294143 
L 224.347592 177.015549 
L 224.361225 175.763447 
L 224.352 174.528 
L 224.33031 173.295258 
L 224.28538 172.05142 
L 224.201408 170.787052 
L 224.061971 169.497214 
L 224.01913 169.170553 
L 223.78685 168.211 
L 223.400435 166.929819 
L 222.911518 165.655308 
L 222.305086 164.40419 
L 221.565022 163.202978 
L 220.680517 162.085476 
L 219.659529 161.075519 
L 218.518396 160.189398 
L 217.276652 159.437852 
L 215.955046 158.82604 
L 214.573761 158.354184 
L 213.151057 158.018578 
L 211.702402 157.812669 
L 210.24 157.728 
L 210.24 159.744 
L 210.24 167.136 
L 210.24 174.528 
z
M 219.04497 73.886731 
L 227.802291 74.927299 
L 236.467349 76.646199 
L 244.987479 79.060085 
L 253.302818 82.179489 
L 261.347575 86.007083 
L 269.051512 90.536456 
L 276.341483 95.75132 
L 283.14292 101.62508 
L 289.383588 108.118645 
L 295.003108 115.176233 
L 295.546188 115.93943 
L 299.94226 122.738376 
L 304.161592 130.731642 
L 307.622927 139.083513 
L 310.294284 147.718535 
L 312.077665 156.119957 
L 312.150354 156.558455 
L 313.158215 165.523823 
L 313.318922 174.528 
L 312.636472 183.486531 
L 311.13481 192.318477 
L 308.848229 200.949995 
L 305.816815 209.315116 
L 302.084674 217.355875 
L 297.698425 225.022145 
L 292.705936 232.27127 
L 287.155303 239.067602 
L 281.093999 245.381999 
L 274.565924 251.188651 
L 267.605967 256.455091 
L 260.249823 261.147554 
L 252.536676 265.233515 
L 244.509243 268.681971 
L 236.213863 271.463777 
L 227.700621 273.552104 
L 219.023424 274.922996 
L 210.24 275.555929 
L 201.411788 275.434922 
L 192.603189 274.551328 
L 183.880631 272.902505 
L 175.311858 270.492282 
L 166.964555 267.332492 
L 158.904619 263.443488 
L 151.194985 258.853021 
L 143.895392 253.594425 
L 137.077819 247.719949 
L 137.06254 247.70546 
L 130.778037 241.204504 
L 125.069171 234.165256 
L 119.984747 226.636894 
L 115.570643 218.673046 
L 111.869521 210.331926 
L 108.920392 201.676507 
L 106.757941 192.774679 
L 105.41155 183.699301 
L 104.903991 174.528 
L 105.248492 165.342433 
L 106.44317 156.225818 
L 108.475128 147.260185 
L 111.322844 138.5251 
L 114.957233 130.096916 
L 119.34262 122.048373 
L 124.43757 114.448492 
L 130.195509 107.362697 
L 136.56513 100.85313 
L 143.488695 94.976892 
L 150.381185 90.108284 
L 150.89898 89.780241 
L 158.74164 85.330224 
L 166.905681 81.597252 
L 175.319227 78.583964 
L 183.915623 76.284089 
L 192.634808 74.683992 
L 201.424349 73.764644 
L 210.24 73.503988 
L 210.24 71.04 
L 210.24 69.397333 
L 201.06732 69.68379 
L 191.928971 70.680996 
L 182.877682 72.410437 
L 173.973904 74.88772 
L 165.284045 78.119644 
L 156.87821 82.102668 
L 148.827946 86.822497 
L 141.204275 92.254426 
L 134.076114 98.364114 
L 127.508338 105.107893 
L 121.559005 112.432899 
L 116.281899 120.281265 
L 111.727132 128.590695 
L 107.940719 137.294107 
L 104.963893 146.319352 
L 102.832097 155.589089 
L 101.573633 165.020925 
L 101.207997 174.528 
L 101.741233 184.020412 
L 103.156872 193.409645 
L 105.426363 202.612729 
L 108.514156 211.553179 
L 112.379544 220.16108 
L 116.978026 228.372826 
L 122.262214 236.130709 
L 128.182394 243.382507 
L 134.686839 250.081161 
L 141.722823 256.183592 
L 149.238269 261.647501 
L 157.177971 266.434129 
L 165.483045 270.5096 
L 174.091435 273.845367 
L 182.938499 276.418589 
L 191.957649 278.212367 
L 201.081001 279.215839 
L 210.24 279.424214 
L 219.3661 278.839798 
L 228.392338 277.475027 
L 237.254979 275.349273 
L 245.894239 272.487218 
L 254.254791 268.918024 
L 262.286038 264.674383 
L 269.94214 259.791492 
L 277.181722 254.306038 
L 283.967271 248.255271 
L 290.261497 241.674009 
L 296.016817 234.589574 
L 301.18147 227.033082 
L 305.703446 219.043336 
L 309.532266 210.667429 
L 312.620749 201.960839 
L 314.926648 192.987081 
L 316.414064 183.817027 
L 317.054614 174.528 
L 316.830627 165.202529 
L 315.742376 155.925085 
L 313.800679 146.779 
L 311.024175 137.84556 
L 307.438939 129.20339 
L 303.07807 120.927915 
L 297.981278 113.090896 
L 292.194467 105.760037 
L 285.769327 98.998673 
L 278.76438 92.863824 
L 271.248126 87.399366 
L 263.292731 82.637974 
L 254.971063 78.601926 
L 246.354964 75.302953 
L 237.513278 72.742742 
L 228.509886 70.914325 
L 219.402117 69.804518 
L 210.24 69.397333 
L 210.24 71.04 
L 210.24 73.503988 
z
" clip-path="url(#p66e2880055)" style="fill: #228c8d; stroke: #228c8d; stroke-width: 0.6"/>
    <path d="M 219.402117 69.804518 
L 228.509886 70.914325 
L 237.513278 72.742742 
L 246.354964 75.302953 
L 254.971063 78.601926 
L 263.292731 82.637974 
L 271.248126 87.399366 
L 278.76438 92.863824 
L 285.769327 98.998673 
L 292.194467 105.760037 
L 297.981278 113.090896 
L 303.07807 120.927915 
L 307.438939 129.20339 
L 311.024175 137.84556 
L 313.800679 146.779 
L 315.742376 155.925085 
L 316.830627 165.202529 
L 317.054614 174.528 
L 316.414064 183.817027 
L 314.926648 192.987081 
L 312.620749 201.960839 
L 309.532266 210.667429 
L 305.703446 219.043336 
L 301.18147 227.033082 
L 296.016817 234.589574 
L 290.261497 241.674009 
L 283.967271 248.255271 
L 277.181722 254.306038 
L 269.94214 259.791492 
L 262.286038 264.674383 
L 254.254791 268.918024 
L 245.894239 272.487218 
L 237.254979 275.349273 
L 228.392338 277.475027 
L 219.3661 278.839798 
L 210.24 279.424214 
L 201.081001 279.215839 
L 191.957649 278.212367 
L 182.938499 276.418589 
L 174.091435 273.845367 
L 165.483045 270.5096 
L 157.177971 266.434129 
L 149.238269 261.647501 
L 141.722823 256.183592 
L 134.686839 250.081161 
L 128.182394 243.382507 
L 122.262214 236.130709 
L 116.978026 228.372826 
L 112.379544 220.16108 
L 108.514156 211.553179 
L 105.426363 202.612729 
L 103.156872 193.409645 
L 101.741233 184.020412 
L 101.207997 174.528 
L 101.573633 165.020925 
L 102.832097 155.589089 
L 104.963893 146.319352 
L 107.940719 137.294107 
L 111.727132 128.590695 
L 116.281899 120.281265 
L 121.559005 112.432899 
L 127.508338 105.107893 
L 134.076114 98.364114 
L 141.204275 92.254426 
L 148.827946 86.822497 
L 156.87821 82.102668 
L 165.284045 78.119644 
L 173.973904 74.88772 
L 182.877682 72.410437 
L 191.928971 70.680996 
L 201.06732 69.68379 
L 210.24 69.397333 
L 210.24 65.290667 
L 200.712828 65.631922 
L 191.23366 66.737691 
L 181.861614 68.618422 
L 172.660416 71.278942 
L 163.697115 74.716462 
L 155.04042 78.919523 
L 146.758986 83.867717 
L 140.989156 87.932994 
L 138.928492 89.542254 
L 131.634964 95.922964 
L 124.919198 102.935346 
L 118.838682 110.528108 
L 113.447342 118.644733 
L 108.79488 127.223364 
L 104.926276 136.196939 
L 101.881219 145.493352 
L 99.693484 155.035667 
L 98.390213 164.742412 
L 97.991111 174.528 
L 98.504725 184.30357 
L 99.919285 193.980519 
L 102.211672 203.474103 
L 105.351128 212.704427 
L 109.300148 221.597026 
L 114.015357 230.083324 
L 118.542044 236.864661 
L 119.455257 238.096162 
L 125.586751 245.56051 
L 132.311138 252.456862 
L 139.574125 258.74431 
L 147.324371 264.38083 
L 155.507665 269.327185 
L 164.06586 273.548763 
L 172.937421 277.015993 
L 182.057987 279.704705 
L 191.360952 281.5964 
L 200.778064 282.678426 
L 210.24 282.944089 
L 219.677024 282.393679 
L 229.020482 281.037406 
L 238.204352 278.892382 
L 247.165921 275.981135 
L 255.846252 272.330922 
L 264.190466 267.972948 
L 272.147817 262.941525 
L 279.671513 257.273255 
L 286.718288 251.006288 
L 293.245475 244.177863 
L 299.202425 236.820161 
L 304.535813 228.969713 
L 309.193077 220.670578 
L 313.124049 211.974731 
L 316.28255 202.942016 
L 318.627846 193.639702 
L 320.125908 184.141771 
L 320.750421 174.528 
L 320.485767 164.882745 
L 319.333875 155.291806 
L 317.307073 145.839464 
L 314.425423 136.607607 
L 310.716286 127.675139 
L 306.21388 119.117454 
L 300.958833 111.00599 
L 294.997729 103.407821 
L 288.382667 96.385333 
L 281.17165 89.994951 
L 273.430243 84.28298 
L 265.227732 79.286454 
L 256.635091 75.033407 
L 247.723597 71.542663 
L 238.563274 68.824103 
L 229.22132 66.879583 
L 219.760814 65.704598 
L 210.24 65.290667 
L 210.24 69.397333 
z
" clip-path="url(#p66e2880055)" style="fill: #1f948c; stroke: #1f948c; stroke-width: 0.6"/>
    <path d="M 219.760814 65.704598 
L 229.22132 66.879583 
L 238.563274 68.824103 
L 247.723597 71.542663 
L 256.635091 75.033407 
L 265.227732 79.286454 
L 273.430243 84.28298 
L 281.17165 89.994951 
L 288.382667 96.385333 
L 294.997729 103.407821 
L 300.958833 111.00599 
L 306.21388 119.117454 
L 310.716286 127.675139 
L 314.425423 136.607607 
L 317.307073 145.839464 
L 319.333875 155.291806 
L 320.485767 164.882745 
L 320.750421 174.528 
L 320.125908 184.141771 
L 318.627846 193.639702 
L 316.28255 202.942016 
L 313.124049 211.974731 
L 309.193077 220.670578 
L 304.535813 228.969713 
L 299.202425 236.820161 
L 293.245475 244.177863 
L 286.718288 251.006288 
L 279.671513 257.273255 
L 272.147817 262.941525 
L 264.190466 267.972948 
L 255.846252 272.330922 
L 247.165921 275.981135 
L 238.204352 278.892382 
L 229.020482 281.037406 
L 219.677024 282.393679 
L 210.24 282.944089 
L 200.778064 282.678426 
L 191.360952 281.5964 
L 182.057987 279.704705 
L 172.937421 277.015993 
L 164.06586 273.548763 
L 155.507665 269.327185 
L 147.324371 264.38083 
L 139.574125 258.74431 
L 132.311138 252.456862 
L 125.586751 245.56051 
L 119.455257 238.096162 
L 118.542044 236.864661 
L 114.015357 230.083324 
L 109.300148 221.597026 
L 105.351128 212.704427 
L 102.211672 203.474103 
L 99.919285 193.980519 
L 98.504725 184.30357 
L 97.991111 174.528 
L 98.390213 164.742412 
L 99.693484 155.035667 
L 101.881219 145.493352 
L 104.926276 136.196939 
L 108.79488 127.223364 
L 113.447342 118.644733 
L 118.838682 110.528108 
L 124.919198 102.935346 
L 131.634964 95.922964 
L 138.928492 89.542254 
L 140.989156 87.932994 
L 146.758986 83.867717 
L 155.04042 78.919523 
L 163.697115 74.716462 
L 172.660416 71.278942 
L 181.861614 68.618422 
L 191.23366 66.737691 
L 200.712828 65.631922 
L 210.24 65.290667 
L 210.24 63.648 
L 210.24 61.4304 
L 200.381525 61.845112 
L 190.589705 63.085638 
L 180.932188 65.149755 
L 171.477754 68.029605 
L 162.295517 71.710724 
L 153.453896 76.171582 
L 145.019551 81.383546 
L 137.056381 87.311159 
L 129.624605 93.912605 
L 122.781031 101.141212 
L 116.582414 108.948252 
L 111.083075 117.279722 
L 106.333485 126.075596 
L 102.379704 135.270063 
L 99.26277 144.791741 
L 97.018029 154.563912 
L 95.674364 164.504806 
L 95.253333 174.528 
L 95.764977 184.543267 
L 97.197449 194.460452 
L 99.527068 204.193441 
L 102.722443 213.66119 
L 106.745406 222.788322 
L 111.551927 231.505586 
L 117.093015 239.750221 
L 123.315599 247.466233 
L 130.16338 254.60462 
L 137.579174 261.121801 
L 145.509038 266.973395 
L 153.896423 272.117938 
L 162.680914 276.518789 
L 171.79874 280.144494 
L 181.183297 282.96909 
L 190.765679 284.972363 
L 200.475211 286.140049 
L 210.24 286.464001 
L 219.987591 285.94348 
L 229.646635 284.588495 
L 239.148391 282.415585 
L 248.427042 279.446035 
L 257.419812 275.705434 
L 266.067086 271.223349 
L 274.312549 266.033083 
L 282.10341 260.171477 
L 289.390705 253.678705 
L 296.127712 246.596348 
L 302.263065 238.963244 
L 307.74472 230.822376 
L 312.52217 222.222959 
L 316.547134 213.220633 
L 319.774415 203.877658 
L 322.162948 194.263036 
L 323.677076 184.452458 
L 324.288001 174.528 
L 323.978286 164.577189 
L 322.751834 154.689128 
L 320.624849 144.950469 
L 317.621827 135.444211 
L 313.77449 126.249074 
L 309.120876 117.4391 
L 303.704569 109.083405 
L 297.574074 101.246011 
L 290.782291 93.985709 
L 283.385899 87.356113 
L 275.444805 81.405888 
L 267.022715 76.177453 
L 258.186592 71.706201 
L 249.005708 68.020092 
L 239.550555 65.139518 
L 229.891718 63.077568 
L 220.098854 61.840785 
L 210.24 61.4304 
L 210.24 63.648 
L 210.24 65.290667 
z
" clip-path="url(#p66e2880055)" style="fill: #1e9c89; stroke: #1e9c89; stroke-width: 0.6"/>
    <path d="M 220.098854 61.840785 
L 229.891718 63.077568 
L 239.550555 65.139518 
L 249.005708 68.020092 
L 258.186592 71.706201 
L 267.022715 76.177453 
L 275.444805 81.405888 
L 283.385899 87.356113 
L 290.782291 93.985709 
L 297.574074 101.246011 
L 303.704569 109.083405 
L 309.120876 117.4391 
L 313.77449 126.249074 
L 317.621827 135.444211 
L 320.624849 144.950469 
L 322.751834 154.689128 
L 323.978286 164.577189 
L 324.288001 174.528 
L 323.677076 184.452458 
L 322.162948 194.263036 
L 319.774415 203.877658 
L 316.547134 213.220633 
L 312.52217 222.222959 
L 307.74472 230.822376 
L 302.263065 238.963244 
L 296.127712 246.596348 
L 289.390705 253.678705 
L 282.10341 260.171477 
L 274.312549 266.033083 
L 266.067086 271.223349 
L 257.419812 275.705434 
L 248.427042 279.446035 
L 239.148391 282.415585 
L 229.646635 284.588495 
L 219.987591 285.94348 
L 210.24 286.464001 
L 200.475211 286.140049 
L 190.765679 284.972363 
L 181.183297 282.96909 
L 171.79874 280.144494 
L 162.680914 276.518789 
L 153.896423 272.117938 
L 145.509038 266.973395 
L 137.579174 261.121801 
L 130.16338 254.60462 
L 123.315599 247.466233 
L 117.093015 239.750221 
L 111.551927 231.505586 
L 106.745406 222.788322 
L 102.722443 213.66119 
L 99.527068 204.193441 
L 97.197449 194.460452 
L 95.764977 184.543267 
L 95.253333 174.528 
L 95.674364 164.504806 
L 97.018029 154.563912 
L 99.26277 144.791741 
L 102.379704 135.270063 
L 106.333485 126.075596 
L 111.083075 117.279722 
L 116.582414 108.948252 
L 122.781031 101.141212 
L 129.624605 93.912605 
L 137.056381 87.311159 
L 145.019551 81.383546 
L 153.453896 76.171582 
L 162.295517 71.710724 
L 171.477754 68.029605 
L 180.932188 65.149755 
L 190.589705 63.085638 
L 200.381525 61.845112 
L 210.24 61.4304 
L 210.24 57.7344 
L 200.064769 58.224583 
L 189.974181 59.59483 
L 180.042496 61.82938 
L 170.341441 64.907611 
L 160.940186 68.804207 
L 151.905189 73.489144 
L 143.299893 78.92762 
L 135.18427 85.080064 
L 127.614246 91.902246 
L 120.642865 99.347077 
L 114.326145 107.368396 
L 108.718808 115.914712 
L 103.87209 124.927829 
L 99.833132 134.343186 
L 96.64432 144.090129 
L 94.342573 154.092157 
L 92.958516 164.2672 
L 92.515556 174.528 
L 93.025229 184.782964 
L 94.475613 194.940385 
L 96.842464 204.912778 
L 100.093759 214.617953 
L 104.190664 223.979617 
L 109.088497 232.927848 
L 114.737665 241.399455 
L 121.084591 249.338271 
L 128.072608 256.695392 
L 135.644675 263.427247 
L 143.748337 269.487937 
L 152.328601 274.833485 
L 161.326196 279.423992 
L 170.677898 283.223982 
L 180.316844 286.202737 
L 190.172814 288.334669 
L 200.172527 289.599743 
L 210.24 289.984001 
L 220.297197 289.482282 
L 230.266686 288.104978 
L 240.074306 285.871147 
L 249.649779 282.805479 
L 258.926942 278.937485 
L 267.843873 274.300835 
L 276.342977 268.932835 
L 284.371101 262.874006 
L 291.879721 256.167721 
L 298.82268 248.857694 
L 305.147187 240.982727 
L 310.798901 232.585708 
L 315.724701 223.716324 
L 319.873476 214.431322 
L 323.19711 204.794766 
L 325.651691 194.878195 
L 327.198963 184.760583 
L 327.808 174.528 
L 327.460778 164.272511 
L 326.16474 154.087341 
L 323.940735 144.06198 
L 320.817766 134.280985 
L 316.831678 124.823484 
L 312.024087 115.76293 
L 306.441517 107.166973 
L 300.134731 99.097365 
L 293.15817 91.60983 
L 285.568331 84.75519 
L 277.420844 78.583812 
L 268.774989 73.142426 
L 259.694478 68.47253 
L 250.246879 64.610004 
L 240.503056 61.584738 
L 230.536596 59.420285 
L 220.423197 58.133531 
L 210.24 57.7344 
L 210.24 61.4304 
z
" clip-path="url(#p66e2880055)" style="fill: #20a486; stroke: #20a486; stroke-width: 0.6"/>
    <path d="M 220.423197 58.133531 
L 230.536596 59.420285 
L 240.503056 61.584738 
L 250.246879 64.610004 
L 259.694478 68.47253 
L 268.774989 73.142426 
L 277.420844 78.583812 
L 285.568331 84.75519 
L 293.15817 91.60983 
L 300.134731 99.097365 
L 306.441517 107.166973 
L 312.024087 115.76293 
L 316.831678 124.823484 
L 320.817766 134.280985 
L 323.940735 144.06198 
L 326.16474 154.087341 
L 327.460778 164.272511 
L 327.808 174.528 
L 327.198963 184.760583 
L 325.651691 194.878195 
L 323.19711 204.794766 
L 319.873476 214.431322 
L 315.724701 223.716324 
L 310.798901 232.585708 
L 305.147187 240.982727 
L 298.82268 248.857694 
L 291.879721 256.167721 
L 284.371101 262.874006 
L 276.342977 268.932835 
L 267.843873 274.300835 
L 258.926942 278.937485 
L 249.649779 282.805479 
L 240.074306 285.871147 
L 230.266686 288.104978 
L 220.297197 289.482282 
L 210.24 289.984001 
L 200.172527 289.599743 
L 190.172814 288.334669 
L 180.316844 286.202737 
L 170.677898 283.223982 
L 161.326196 279.423992 
L 152.328601 274.833485 
L 143.748337 269.487937 
L 135.644675 263.427247 
L 128.072608 256.695392 
L 121.084591 249.338271 
L 114.737665 241.399455 
L 109.088497 232.927848 
L 104.190664 223.979617 
L 100.093759 214.617953 
L 96.842464 204.912778 
L 94.475613 194.940385 
L 93.025229 184.782964 
L 92.515556 174.528 
L 92.958516 164.2672 
L 94.342573 154.092157 
L 96.64432 144.090129 
L 99.833132 134.343186 
L 103.87209 124.927829 
L 108.718808 115.914712 
L 114.326145 107.368396 
L 120.642865 99.347077 
L 127.614246 91.902246 
L 135.18427 85.080064 
L 143.299893 78.92762 
L 151.905189 73.489144 
L 160.940186 68.804207 
L 170.341441 64.907611 
L 180.042496 61.82938 
L 189.974181 59.59483 
L 200.064769 58.224583 
L 210.24 57.7344 
L 210.24 56.256 
L 210.24 54.408 
L 199.782051 54.993101 
L 189.428009 56.497332 
L 179.255851 58.893581 
L 169.338556 62.152207 
L 159.745021 66.241168 
L 150.540599 71.125604 
L 141.787214 76.76729 
L 133.543118 83.124215 
L 125.862362 90.150362 
L 118.796034 97.797402 
L 112.398376 106.018557 
L 106.722012 114.761862 
L 101.815772 123.968952 
L 97.724287 133.57563 
L 94.487605 143.512239 
L 92.140769 153.703919 
L 90.713326 164.070771 
L 90.228706 174.528 
L 90.700269 184.986371 
L 92.120677 195.355624 
L 94.470668 205.548299 
L 97.7226 215.480984 
L 101.841086 225.075244 
L 106.783768 234.258483 
L 112.502233 242.964721 
L 118.943068 251.135222 
L 126.049038 258.718962 
L 133.762197 265.670697 
L 142.029431 271.942789 
L 150.795472 277.488943 
L 160.000815 282.26628 
L 169.581713 286.235725 
L 179.470192 289.362486 
L 189.594114 291.616638 
L 199.877334 292.973814 
L 210.24 293.416 
L 220.599269 292.934987 
L 230.87251 291.540777 
L 240.98057 289.253369 
L 250.848593 286.099192 
L 260.406393 282.110177 
L 269.588689 277.322944 
L 278.335259 271.778109 
L 286.591084 265.519678 
L 294.306511 258.594511 
L 301.434786 251.049512 
L 307.9224 242.925953 
L 313.714471 234.269013 
L 318.757627 225.1306 
L 323.000738 215.569552 
L 326.395793 205.651851 
L 328.898963 195.450777 
L 330.471879 185.046926 
L 331.08313 174.528 
L 330.713986 163.987892 
L 329.371935 153.521826 
L 327.078313 143.221268 
L 323.863041 133.172595 
L 319.763381 123.456409 
L 314.822786 114.147101 
L 309.089857 105.312585 
L 302.617429 97.014133 
L 295.461739 89.306261 
L 287.679798 82.238843 
L 279.324561 75.865021 
L 270.452717 70.236514 
L 261.126689 65.401143 
L 251.414467 61.402081 
L 241.389401 58.276853 
L 231.129792 56.056101 
L 220.718149 54.762204 
L 210.24 54.408 
L 210.24 56.256 
L 210.24 57.7344 
z
" clip-path="url(#p66e2880055)" style="fill: #25ac82; stroke: #25ac82; stroke-width: 0.6"/>
    <path d="M 220.718149 54.762204 
L 231.129792 56.056101 
L 241.389401 58.276853 
L 251.414467 61.402081 
L 261.126689 65.401143 
L 270.452717 70.236514 
L 279.324561 75.865021 
L 287.679798 82.238843 
L 295.461739 89.306261 
L 302.617429 97.014133 
L 309.089857 105.312585 
L 314.822786 114.147101 
L 319.763381 123.456409 
L 323.863041 133.172595 
L 327.078313 143.221268 
L 329.371935 153.521826 
L 330.713986 163.987892 
L 331.08313 174.528 
L 330.471879 185.046926 
L 328.898963 195.450777 
L 326.395793 205.651851 
L 323.000738 215.569552 
L 318.757627 225.1306 
L 313.714471 234.269013 
L 307.9224 242.925953 
L 301.434786 251.049512 
L 294.306511 258.594511 
L 286.591084 265.519678 
L 278.335259 271.778109 
L 269.588689 277.322944 
L 260.406393 282.110177 
L 250.848593 286.099192 
L 240.98057 289.253369 
L 230.87251 291.540777 
L 220.599269 292.934987 
L 210.24 293.416 
L 199.877334 292.973814 
L 189.594114 291.616638 
L 179.470192 289.362486 
L 169.581713 286.235725 
L 160.000815 282.26628 
L 150.795472 277.488943 
L 142.029431 271.942789 
L 133.762197 265.670697 
L 126.049038 258.718962 
L 118.943068 251.135222 
L 112.502233 242.964721 
L 106.783768 234.258483 
L 101.841086 225.075244 
L 97.7226 215.480984 
L 94.470668 205.548299 
L 92.120677 195.355624 
L 90.700269 184.986371 
L 90.228706 174.528 
L 90.713326 164.070771 
L 92.140769 153.703919 
L 94.487605 143.512239 
L 97.724287 133.57563 
L 101.815772 123.968952 
L 106.722012 114.761862 
L 112.398376 106.018557 
L 118.796034 97.797402 
L 125.862362 90.150362 
L 133.543118 83.124215 
L 141.787214 76.76729 
L 150.540599 71.125604 
L 159.745021 66.241168 
L 169.338556 62.152207 
L 179.255851 58.893581 
L 189.428009 56.497332 
L 199.782051 54.993101 
L 210.24 54.408 
L 210.24 51.328 
L 199.523922 52.042673 
L 188.936711 53.711045 
L 178.558703 56.291791 
L 168.462098 59.744157 
L 158.713089 64.028184 
L 149.373343 69.103858 
L 140.500705 74.929965 
L 132.149269 81.463091 
L 124.368952 88.656952 
L 117.207333 96.464324 
L 110.717841 104.841834 
L 104.953262 113.740673 
L 99.962904 123.104945 
L 95.792177 132.872399 
L 92.482205 142.974894 
L 90.069419 153.338684 
L 88.585066 163.884572 
L 88.054588 174.528 
L 88.493405 185.179447 
L 89.895422 195.747996 
L 92.242419 206.145357 
L 95.507803 216.287105 
L 99.657223 226.093596 
L 104.649317 235.490809 
L 110.436594 244.411097 
L 116.966445 252.793805 
L 124.182276 260.585724 
L 132.026561 267.739147 
L 140.446338 274.20368 
L 149.386122 279.930008 
L 158.785739 284.87202 
L 168.580233 288.987269 
L 178.699821 292.23755 
L 189.069899 294.589608 
L 199.611178 296.015987 
L 210.24 296.496 
L 220.869157 296.019815 
L 231.411645 294.598364 
L 241.784512 292.253722 
L 251.909814 289.014872 
L 261.715029 284.916557 
L 271.133286 279.998264 
L 280.103466 274.30337 
L 288.570288 267.878402 
L 296.4844 260.7724 
L 303.799436 253.033688 
L 310.460803 244.703362 
L 316.411859 235.826352 
L 321.597176 226.454704 
L 325.963328 216.647847 
L 329.459842 206.47286 
L 332.040349 196.004688 
L 333.663989 185.3262 
L 334.297043 174.528 
L 333.919356 163.707458 
L 332.539572 152.963286 
L 330.181109 142.389877 
L 326.8762 132.075895 
L 322.664496 122.103596 
L 317.591784 112.548419 
L 311.708834 103.478757 
L 305.070401 94.955846 
L 297.734319 87.033681 
L 289.758074 79.76205 
L 281.192241 73.197698 
L 272.09153 67.398007 
L 262.517954 62.417565 
L 252.540997 58.306966 
L 242.237663 55.111096 
L 231.692125 52.866953 
L 220.9947 51.601216 
L 210.24 51.328 
L 210.24 54.408 
z
" clip-path="url(#p66e2880055)" style="fill: #2fb47c; stroke: #2fb47c; stroke-width: 0.6"/>
    <path d="M 220.9947 51.601216 
L 231.692125 52.866953 
L 242.237663 55.111096 
L 252.540997 58.306966 
L 262.517954 62.417565 
L 272.09153 67.398007 
L 281.192241 73.197698 
L 289.758074 79.76205 
L 297.734319 87.033681 
L 305.070401 94.955846 
L 311.708834 103.478757 
L 317.591784 112.548419 
L 322.664496 122.103596 
L 326.8762 132.075895 
L 330.181109 142.389877 
L 332.539572 152.963286 
L 333.919356 163.707458 
L 334.297043 174.528 
L 333.663989 185.3262 
L 332.040349 196.004688 
L 329.459842 206.47286 
L 325.963328 216.647847 
L 321.597176 226.454704 
L 316.411859 235.826352 
L 310.460803 244.703362 
L 303.799436 253.033688 
L 296.4844 260.7724 
L 288.570288 267.878402 
L 280.103466 274.30337 
L 271.133286 279.998264 
L 261.715029 284.916557 
L 251.909814 289.014872 
L 241.784512 292.253722 
L 231.411645 294.598364 
L 220.869157 296.019815 
L 210.24 296.496 
L 199.611178 296.015987 
L 189.069899 294.589608 
L 178.699821 292.23755 
L 168.580233 288.987269 
L 158.785739 284.87202 
L 149.386122 279.930008 
L 140.446338 274.20368 
L 132.026561 267.739147 
L 124.182276 260.585724 
L 116.966445 252.793805 
L 110.436594 244.411097 
L 104.649317 235.490809 
L 99.657223 226.093596 
L 95.507803 216.287105 
L 92.242419 206.145357 
L 89.895422 195.747996 
L 88.493405 185.179447 
L 88.054588 174.528 
L 88.585066 163.884572 
L 90.069419 153.338684 
L 92.482205 142.974894 
L 95.792177 132.872399 
L 99.962904 123.104945 
L 104.953262 113.740673 
L 110.717841 104.841834 
L 117.207333 96.464324 
L 124.368952 88.656952 
L 132.149269 81.463091 
L 140.500705 74.929965 
L 149.373343 69.103858 
L 158.713089 64.028184 
L 168.462098 59.744157 
L 178.558703 56.291791 
L 188.936711 53.711045 
L 199.523922 52.042673 
L 210.24 51.328 
L 210.24 48.864 
L 210.24 48.512 
L 199.274928 49.196659 
L 192.65483 50.1005 
L 188.445414 50.924759 
L 177.861556 53.690001 
L 167.585639 57.336107 
L 157.681158 61.815199 
L 148.206088 67.082112 
L 139.214196 73.092639 
L 130.75542 79.801967 
L 122.875543 87.163543 
L 115.618632 95.131245 
L 109.037305 103.66511 
L 103.184511 112.719485 
L 98.110036 122.240939 
L 93.860066 132.169168 
L 90.476806 142.437549 
L 87.99807 152.97345 
L 86.456806 163.698374 
L 85.880471 174.528 
L 86.28654 185.372523 
L 87.670166 196.140369 
L 90.01417 206.742414 
L 93.293006 217.093225 
L 97.47336 227.111948 
L 102.514866 236.723135 
L 108.370954 245.857474 
L 114.989822 254.452389 
L 122.315514 262.452486 
L 130.290925 269.807597 
L 138.863245 276.464571 
L 147.976773 282.371072 
L 157.570662 287.47776 
L 167.578753 291.738814 
L 177.92945 295.112615 
L 188.545684 297.562579 
L 199.345023 299.058161 
L 210.24 299.576 
L 221.139044 299.104643 
L 231.95078 297.65595 
L 242.588454 295.254074 
L 252.971034 291.930551 
L 263.023666 287.722936 
L 272.677883 282.673585 
L 281.871673 276.828632 
L 290.549492 270.237125 
L 298.662289 262.950289 
L 306.164085 255.017864 
L 312.999207 246.480771 
L 318.080975 239.039743 
L 319.091522 237.373455 
L 324.303524 227.716695 
L 328.663388 217.630588 
L 332.127584 207.18768 
L 334.658578 196.466352 
L 336.225627 185.550314 
L 336.805463 174.528 
L 336.385442 163.491704 
L 334.971668 152.534442 
L 332.581274 141.746755 
L 329.239557 131.215703 
L 324.979524 121.024081 
L 319.841287 111.249667 
L 313.871299 101.964583 
L 307.121451 93.234811 
L 299.64807 85.11993 
L 291.509113 77.675243 
L 282.759448 70.959495 
L 273.458594 65.030183 
L 263.672974 59.940618 
L 253.475772 55.738694 
L 242.946497 52.465693 
L 232.170282 50.155191 
L 221.236965 48.832115 
L 210.24 48.512 
L 210.24 48.864 
L 210.24 51.328 
z
" clip-path="url(#p66e2880055)" style="fill: #3bbb75; stroke: #3bbb75; stroke-width: 0.6"/>
    <path d="M 312.999207 246.480771 
L 306.164085 255.017864 
L 298.662289 262.950289 
L 290.549492 270.237125 
L 281.871673 276.828632 
L 272.677883 282.673585 
L 263.023666 287.722936 
L 252.971034 291.930551 
L 242.588454 295.254074 
L 231.95078 297.65595 
L 221.139044 299.104643 
L 210.24 299.576 
L 199.345023 299.058161 
L 188.545684 297.562579 
L 177.92945 295.112615 
L 167.578753 291.738814 
L 157.570662 287.47776 
L 147.976773 282.371072 
L 138.863245 276.464571 
L 130.290925 269.807597 
L 122.315514 262.452486 
L 114.989822 254.452389 
L 108.370954 245.857474 
L 102.514866 236.723135 
L 97.47336 227.111948 
L 93.293006 217.093225 
L 90.01417 206.742414 
L 87.670166 196.140369 
L 86.28654 185.372523 
L 85.880471 174.528 
L 86.456806 163.698374 
L 87.99807 152.97345 
L 90.476806 142.437549 
L 93.860066 132.169168 
L 98.110036 122.240939 
L 103.184511 112.719485 
L 109.037305 103.66511 
L 115.618632 95.131245 
L 122.875543 87.163543 
L 130.75542 79.801967 
L 139.214196 73.092639 
L 148.206088 67.082112 
L 157.681158 61.815199 
L 167.585639 57.336107 
L 177.861556 53.690001 
L 188.445414 50.924759 
L 192.65483 50.1005 
L 199.274928 49.196659 
L 210.24 48.512 
L 210.24 46.752 
L 199.124633 47.478776 
L 188.141325 49.200189 
L 177.376922 51.881322 
L 166.911002 55.482557 
L 156.816305 59.960517 
L 147.159102 65.268679 
L 137.999446 71.357797 
L 129.391246 78.176208 
L 121.382133 85.670133 
L 121.382133 85.670133 
L 114.029931 93.798166 
L 107.35677 102.488387 
L 101.415761 111.698296 
L 101.176393 112.105484 
L 96.278 121.386647 
L 91.977657 131.484027 
L 88.555101 141.92263 
L 86.04773 152.629552 
L 84.488328 163.526154 
L 83.904 174.528 
L 84.311614 185.545306 
L 85.706878 196.486549 
L 88.073275 207.262475 
L 91.385954 217.787335 
L 95.612643 227.979614 
L 100.714528 237.762561 
L 106.647053 247.064562 
L 113.360646 255.81943 
L 120.801363 263.966637 
L 128.912685 271.45012 
L 137.638683 278.213426 
L 146.919154 284.202923 
L 156.688494 289.369576 
L 166.876035 293.669515 
L 177.406421 297.064585 
L 188.200029 299.522888 
L 199.173445 301.019302 
L 210.24 301.536 
L 221.310544 301.0649 
L 232.296027 299.613943 
L 243.110146 297.201056 
L 253.670252 293.851636 
L 263.897978 289.597905 
L 273.719769 284.478185 
L 283.067275 278.536128 
L 291.877612 271.819917 
L 300.093473 264.381473 
L 307.661133 256.274037 
L 314.523323 247.547969 
L 320.623591 238.257996 
L 325.908891 228.46529 
L 330.330529 218.237378 
L 333.845085 207.647883 
L 336.415263 196.776103 
L 338.010653 185.706484 
L 338.60839 174.528 
L 338.195995 163.333301 
L 336.778626 152.215826 
L 334.372168 141.266886 
L 331.000685 130.574705 
L 326.696045 120.223654 
L 321.497399 110.293511 
L 315.450528 100.858795 
L 308.607058 91.988238 
L 301.023579 83.744421 
L 292.759111 76.185553 
L 283.870822 69.372288 
L 274.420941 63.363349 
L 264.478688 58.212758 
L 254.120019 53.968639 
L 243.427099 50.672062 
L 232.487526 48.356013 
L 221.393359 47.044524 
L 210.24 46.752 
L 210.24 48.512 
L 221.236965 48.832115 
L 232.170282 50.155191 
L 242.946497 52.465693 
L 253.475772 55.738694 
L 263.672974 59.940618 
L 273.458594 65.030183 
L 282.759448 70.959495 
L 291.509113 77.675243 
L 299.64807 85.11993 
L 307.121451 93.234811 
L 313.871299 101.964583 
L 319.841287 111.249667 
L 324.979524 121.024081 
L 329.239557 131.215703 
L 332.581274 141.746755 
L 334.971668 152.534442 
L 336.385442 163.491704 
L 336.805463 174.528 
L 336.225627 185.550314 
L 334.658578 196.466352 
L 332.127584 207.18768 
L 328.663388 217.630588 
L 324.303524 227.716695 
L 319.091522 237.373455 
L 318.080975 239.039743 
z
" clip-path="url(#p66e2880055)" style="fill: #4cc26c; stroke: #4cc26c; stroke-width: 0.6"/>
    <path d="M 101.415761 111.698296 
L 107.35677 102.488387 
L 114.029931 93.798166 
L 121.382133 85.670133 
L 121.382133 85.670133 
L 129.391246 78.176208 
L 137.999446 71.357797 
L 147.159102 65.268679 
L 156.816305 59.960517 
L 166.911002 55.482557 
L 177.376922 51.881322 
L 188.141325 49.200189 
L 199.124633 47.478776 
L 210.24 46.752 
L 210.24 44.992 
L 198.974338 45.760893 
L 187.848012 47.536727 
L 176.948481 50.28236 
L 166.355459 53.956214 
L 156.141432 58.513247 
L 146.372121 63.905588 
L 137.106782 70.082941 
L 128.398325 76.99289 
L 120.293189 84.581189 
L 112.834267 92.794885 
L 106.07221 101.588928 
L 100.058466 110.914662 
L 94.842104 120.717077 
L 90.469498 130.935102 
L 86.98397 141.501646 
L 84.425259 152.343467 
L 82.828698 163.380956 
L 82.224 174.528 
L 82.629993 185.692429 
L 84.042033 196.780106 
L 86.442332 207.699485 
L 89.804457 218.362953 
L 94.094391 228.687587 
L 99.271535 238.595673 
L 105.289614 248.015051 
L 112.097482 256.87935 
L 119.639822 265.128178 
L 127.859121 272.705709 
L 136.699159 279.555206 
L 146.099531 285.622552 
L 155.994347 290.858179 
L 166.31256 295.21765 
L 176.978336 298.662222 
L 187.911469 301.159393 
L 199.027851 302.683452 
L 210.24 303.216 
L 221.457835 302.748442 
L 232.591265 301.288322 
L 243.552854 298.853265 
L 254.258732 295.468473 
L 264.629235 291.166092 
L 274.589443 285.984505 
L 284.069593 279.967585 
L 293.005356 273.16391 
L 301.337981 265.625981 
L 309.012423 257.407904 
L 315.97062 248.561377 
L 322.155661 239.142537 
L 327.514258 229.213885 
L 331.99767 218.844168 
L 335.562586 208.108086 
L 338.171948 197.085854 
L 339.795679 185.862653 
L 340.411317 174.528 
L 340.006547 163.174898 
L 338.585584 151.897211 
L 336.163062 140.787017 
L 332.761814 129.933707 
L 328.412566 119.423227 
L 323.153511 109.337354 
L 317.029756 99.753008 
L 310.092665 90.741665 
L 302.399088 82.368912 
L 294.009109 74.695864 
L 284.982196 67.785081 
L 275.383289 61.696514 
L 265.284402 56.484898 
L 254.764266 52.198584 
L 243.907701 48.87843 
L 232.804769 46.556835 
L 221.549753 45.256934 
L 210.24 44.992 
L 210.24 46.752 
L 221.393359 47.044524 
L 232.487526 48.356013 
L 243.427099 50.672062 
L 254.120019 53.968639 
L 264.478688 58.212758 
L 274.420941 63.363349 
L 283.870822 69.372288 
L 292.759111 76.185553 
L 301.023579 83.744421 
L 308.607058 91.988238 
L 315.450528 100.858795 
L 321.497399 110.293511 
L 326.696045 120.223654 
L 331.000685 130.574705 
L 334.372168 141.266886 
L 336.778626 152.215826 
L 338.195995 163.333301 
L 338.60839 174.528 
L 338.010653 185.706484 
L 336.415263 196.776103 
L 333.845085 207.647883 
L 330.330529 218.237378 
L 325.908891 228.46529 
L 320.623591 238.257996 
L 314.523323 247.547969 
L 307.661133 256.274037 
L 300.093473 264.381473 
L 291.877612 271.819917 
L 283.067275 278.536128 
L 273.719769 284.478185 
L 263.897978 289.597905 
L 253.670252 293.851636 
L 243.110146 297.201056 
L 232.296027 299.613943 
L 221.310544 301.0649 
L 210.24 301.536 
L 199.173445 301.019302 
L 188.200029 299.522888 
L 177.406421 297.064585 
L 166.876035 293.669515 
L 156.688494 289.369576 
L 146.919154 284.202923 
L 137.638683 278.213426 
L 128.912685 271.45012 
L 120.801363 263.966637 
L 113.360646 255.81943 
L 106.647053 247.064562 
L 100.714528 237.762561 
L 95.612643 227.979614 
L 91.385954 217.787335 
L 88.073275 207.262475 
L 85.706878 196.486549 
L 84.311614 185.545306 
L 83.904 174.528 
L 84.488328 163.526154 
L 86.04773 152.629552 
L 88.555101 141.92263 
L 91.977657 131.484027 
L 96.278 121.386647 
L 101.176393 112.105484 
z
" clip-path="url(#p66e2880055)" style="fill: #5ec962; stroke: #5ec962; stroke-width: 0.6"/>
    <path d="M 221.549753 45.256934 
L 232.804769 46.556835 
L 243.907701 48.87843 
L 254.764266 52.198584 
L 265.284402 56.484898 
L 275.383289 61.696514 
L 284.982196 67.785081 
L 294.009109 74.695864 
L 302.399088 82.368912 
L 310.092665 90.741665 
L 317.029756 99.753008 
L 323.153511 109.337354 
L 328.412566 119.423227 
L 332.761814 129.933707 
L 336.163062 140.787017 
L 338.585584 151.897211 
L 340.006547 163.174898 
L 340.411317 174.528 
L 339.795679 185.862653 
L 338.171948 197.085854 
L 335.562586 208.108086 
L 331.99767 218.844168 
L 327.514258 229.213885 
L 322.155661 239.142537 
L 315.97062 248.561377 
L 309.012423 257.407904 
L 301.337981 265.625981 
L 293.005356 273.16391 
L 284.069593 279.967585 
L 274.589443 285.984505 
L 264.629235 291.166092 
L 254.258732 295.468473 
L 243.552854 298.853265 
L 232.591265 301.288322 
L 221.457835 302.748442 
L 210.24 303.216 
L 199.027851 302.683452 
L 187.911469 301.159393 
L 176.978336 298.662222 
L 166.31256 295.21765 
L 155.994347 290.858179 
L 146.099531 285.622552 
L 136.699159 279.555206 
L 127.859121 272.705709 
L 119.639822 265.128178 
L 112.097482 256.87935 
L 105.289614 248.015051 
L 99.271535 238.595673 
L 94.094391 228.687587 
L 89.804457 218.362953 
L 86.442332 207.699485 
L 84.042033 196.780106 
L 82.629993 185.692429 
L 82.224 174.528 
L 82.828698 163.380956 
L 84.425259 152.343467 
L 86.98397 141.501646 
L 90.469498 130.935102 
L 94.842104 120.717077 
L 100.058466 110.914662 
L 106.07221 101.588928 
L 112.834267 92.794885 
L 120.293189 84.581189 
L 128.398325 76.99289 
L 137.106782 70.082941 
L 146.372121 63.905588 
L 156.141432 58.513247 
L 166.355459 53.956214 
L 176.948481 50.28236 
L 187.848012 47.536727 
L 198.974338 45.760893 
L 210.24 44.992 
L 210.24 43.232 
L 198.824043 44.04301 
L 187.554699 45.873265 
L 176.520041 48.683399 
L 165.799915 52.429871 
L 155.46656 57.065978 
L 145.58514 62.542497 
L 136.214119 68.808085 
L 127.405404 75.809573 
L 119.204245 83.492245 
L 111.652469 91.803239 
L 104.80097 100.698797 
L 98.702099 110.131563 
L 93.406208 120.047508 
L 88.961339 130.386177 
L 85.41284 141.080663 
L 82.802788 152.057381 
L 81.169069 163.235757 
L 80.544 174.528 
L 80.948372 185.839552 
L 82.377189 197.073663 
L 84.811388 208.136495 
L 88.222959 218.938571 
L 92.576138 229.39556 
L 97.828541 239.428786 
L 103.932176 248.96554 
L 110.834319 257.93927 
L 118.478282 266.289718 
L 126.805557 273.961298 
L 135.759634 280.896986 
L 145.279908 287.04218 
L 155.3002 292.346782 
L 165.749084 296.765786 
L 176.55025 300.259858 
L 187.622909 302.795899 
L 198.882257 304.347602 
L 210.24 304.896 
L 221.605126 304.431984 
L 232.886503 302.9627 
L 243.995563 300.505475 
L 254.847213 297.085311 
L 265.360493 292.734279 
L 275.459117 287.490825 
L 285.07191 281.399043 
L 294.1331 274.507903 
L 302.582489 266.870489 
L 310.363713 258.54177 
L 317.417918 249.574786 
L 323.687731 240.027078 
L 329.119625 229.96248 
L 333.664811 219.450957 
L 337.280087 208.568289 
L 339.928632 197.395605 
L 341.580705 186.018823 
L 342.214244 174.528 
L 341.8171 163.016495 
L 340.392542 151.578595 
L 337.953956 140.307149 
L 334.522942 129.292708 
L 330.129087 118.6228 
L 324.809622 108.381198 
L 318.608985 98.64722 
L 311.578273 89.495093 
L 303.774596 80.993404 
L 295.259107 73.206174 
L 286.09357 66.197875 
L 276.345636 60.029679 
L 266.090117 54.757038 
L 255.408513 50.428529 
L 244.388303 47.084799 
L 233.122013 44.757657 
L 221.706147 43.469343 
L 210.24 43.232 
L 210.24 44.992 
z
" clip-path="url(#p66e2880055)" style="fill: #70cf57; stroke: #70cf57; stroke-width: 0.6"/>
    <path d="M 221.706147 43.469343 
L 233.122013 44.757657 
L 244.388303 47.084799 
L 255.408513 50.428529 
L 266.090117 54.757038 
L 276.345636 60.029679 
L 286.09357 66.197875 
L 295.259107 73.206174 
L 303.774596 80.993404 
L 311.578273 89.495093 
L 318.608985 98.64722 
L 324.809622 108.381198 
L 330.129087 118.6228 
L 334.522942 129.292708 
L 337.953956 140.307149 
L 340.392542 151.578595 
L 341.8171 163.016495 
L 342.214244 174.528 
L 341.580705 186.018823 
L 339.928632 197.395605 
L 337.280087 208.568289 
L 333.664811 219.450957 
L 329.119625 229.96248 
L 323.687731 240.027078 
L 317.417918 249.574786 
L 310.363713 258.54177 
L 302.582489 266.870489 
L 294.1331 274.507903 
L 285.07191 281.399043 
L 275.459117 287.490825 
L 265.360493 292.734279 
L 254.847213 297.085311 
L 243.995563 300.505475 
L 232.886503 302.9627 
L 221.605126 304.431984 
L 210.24 304.896 
L 198.882257 304.347602 
L 187.622909 302.795899 
L 176.55025 300.259858 
L 165.749084 296.765786 
L 155.3002 292.346782 
L 145.279908 287.04218 
L 135.759634 280.896986 
L 126.805557 273.961298 
L 118.478282 266.289718 
L 110.834319 257.93927 
L 103.932176 248.96554 
L 97.828541 239.428786 
L 92.576138 229.39556 
L 88.222959 218.938571 
L 84.811388 208.136495 
L 82.377189 197.073663 
L 80.948372 185.839552 
L 80.544 174.528 
L 81.169069 163.235757 
L 82.802788 152.057381 
L 85.41284 141.080663 
L 88.961339 130.386177 
L 93.406208 120.047508 
L 98.702099 110.131563 
L 104.80097 100.698797 
L 111.652469 91.803239 
L 119.204245 83.492245 
L 127.405404 75.809573 
L 136.214119 68.808085 
L 145.58514 62.542497 
L 155.46656 57.065978 
L 165.799915 52.429871 
L 176.520041 48.683399 
L 187.554699 45.873265 
L 198.824043 44.04301 
L 210.24 43.232 
L 210.24 41.472 
L 210.24 41.472 
L 198.673747 42.325127 
L 187.261386 44.209803 
L 176.0916 47.084438 
L 165.244372 50.903527 
L 154.791687 55.618709 
L 144.798159 61.179406 
L 135.321455 67.533229 
L 126.412483 74.626256 
L 118.1153 82.4033 
L 110.470672 90.811593 
L 103.529731 99.808665 
L 97.345731 109.348464 
L 91.970312 119.377939 
L 87.453179 129.837252 
L 83.841709 140.65968 
L 81.180316 151.771296 
L 79.509439 163.090558 
L 78.864 174.528 
L 79.266751 185.986674 
L 80.712344 197.367221 
L 83.180445 208.573505 
L 86.641462 219.514189 
L 91.057886 230.103533 
L 96.385548 240.261898 
L 102.574737 249.916028 
L 109.571156 258.99919 
L 117.316741 267.451259 
L 125.751992 275.216887 
L 134.82011 282.238765 
L 144.460285 288.461808 
L 154.606053 293.835384 
L 165.185609 298.313922 
L 176.122165 301.857494 
L 187.334349 304.432404 
L 198.736662 306.011752 
L 210.24 306.576 
L 221.752417 306.115526 
L 233.181741 304.637079 
L 244.438271 302.157684 
L 255.435694 298.702149 
L 266.09175 294.302465 
L 276.328792 288.997145 
L 286.074227 282.8305 
L 295.260844 275.851896 
L 303.826997 268.114997 
L 311.715003 259.675637 
L 318.865215 250.588194 
L 325.2198 240.911619 
L 330.724992 230.711075 
L 333.796081 223.902021 
L 335.271741 220.035832 
L 338.762227 208.965427 
L 341.27458 197.632932 
L 342.789682 186.124595 
L 343.296 174.528 
L 342.789682 162.931405 
L 341.27458 151.423068 
L 338.762227 140.090573 
L 335.271741 129.020168 
L 330.829689 118.296105 
L 325.469876 108 
L 319.233094 98.210214 
L 312.166809 89.001252 
L 304.3248 80.4432 
L 295.766748 72.601191 
L 286.557786 65.534906 
L 276.768 59.298124 
L 266.471895 53.938311 
L 255.747832 49.496259 
L 244.677427 46.005773 
L 233.344932 43.49342 
L 221.836595 41.978318 
L 210.24 41.472 
L 210.24 43.232 
z
" clip-path="url(#p66e2880055)" style="fill: #86d549; stroke: #86d549; stroke-width: 0.6"/>
    <path d="M 330.724992 230.711075 
L 325.2198 240.911619 
L 318.865215 250.588194 
L 311.715003 259.675637 
L 303.826997 268.114997 
L 295.260844 275.851896 
L 286.074227 282.8305 
L 276.328792 288.997145 
L 266.09175 294.302465 
L 255.435694 298.702149 
L 244.438271 302.157684 
L 233.181741 304.637079 
L 221.752417 306.115526 
L 210.24 306.576 
L 198.736662 306.011752 
L 187.334349 304.432404 
L 176.122165 301.857494 
L 165.185609 298.313922 
L 154.606053 293.835384 
L 144.460285 288.461808 
L 134.82011 282.238765 
L 125.751992 275.216887 
L 117.316741 267.451259 
L 109.571156 258.99919 
L 102.574737 249.916028 
L 96.385548 240.261898 
L 91.057886 230.103533 
L 86.641462 219.514189 
L 83.180445 208.573505 
L 80.712344 197.367221 
L 79.266751 185.986674 
L 78.864 174.528 
L 79.509439 163.090558 
L 81.180316 151.771296 
L 83.841709 140.65968 
L 87.453179 129.837252 
L 91.970312 119.377939 
L 97.345731 109.348464 
L 103.529731 99.808665 
L 110.470672 90.811593 
L 118.1153 82.4033 
L 126.412483 74.626256 
L 135.321455 67.533229 
L 144.798159 61.179406 
L 154.791687 55.618709 
L 165.244372 50.903527 
L 176.0916 47.084438 
L 187.261386 44.209803 
L 198.673747 42.325127 
L 210.24 41.472 
L 198.643405 41.978318 
L 187.135068 43.49342 
L 175.802573 46.005773 
L 164.732168 49.496259 
L 161.190977 50.842542 
L 154.116814 54.17144 
L 144.011178 59.816315 
L 134.428791 66.258373 
L 125.419562 73.442939 
L 117.026356 81.314356 
L 109.288874 89.819948 
L 102.258491 98.918534 
L 95.989364 108.565364 
L 90.534416 118.708369 
L 85.94502 129.288327 
L 82.270578 140.238697 
L 79.557845 151.48521 
L 77.849809 162.945359 
L 77.184 174.528 
L 77.184 174.528 
L 77.690318 186.124595 
L 79.20542 197.632932 
L 81.717773 208.965427 
L 85.208259 220.035832 
L 89.650311 230.759895 
L 95.010124 241.056 
L 101.246906 250.845786 
L 108.313191 260.054748 
L 116.1552 268.6128 
L 124.713252 276.454809 
L 133.922214 283.521094 
L 143.712 289.757876 
L 154.008105 295.117689 
L 164.732168 299.559741 
L 175.802573 303.050227 
L 187.135068 305.56258 
L 198.643405 307.077682 
L 210.24 307.584 
L 221.836595 307.077682 
L 233.344932 305.56258 
L 244.677427 303.050227 
L 255.747832 299.559741 
L 266.471895 295.117689 
L 276.768 289.757876 
L 286.557786 283.521094 
L 295.766748 276.454809 
L 304.3248 268.6128 
L 312.166809 260.054748 
L 319.233094 250.845786 
L 325.469876 241.056 
L 330.829689 230.759895 
L 333.796081 223.902021 
z
" clip-path="url(#p66e2880055)" style="fill: #9bd93c; stroke: #9bd93c; stroke-width: 0.6"/>
    <path d="M 77.849809 162.945359 
L 79.557845 151.48521 
L 82.270578 140.238697 
L 85.94502 129.288327 
L 90.534416 118.708369 
L 95.989364 108.565364 
L 102.258491 98.918534 
L 109.288874 89.819948 
L 117.026356 81.314356 
L 125.419562 73.442939 
L 134.428791 66.258373 
L 144.011178 59.816315 
L 154.116814 54.17144 
L 161.190977 50.842542 
L 154.008105 53.938311 
L 143.712 59.298124 
L 133.922214 65.534906 
L 124.713252 72.601191 
L 116.1552 80.4432 
L 108.313191 89.001252 
L 101.246906 98.210214 
L 95.010124 108 
L 89.650311 118.296105 
L 85.208259 129.020168 
L 81.717773 140.090573 
L 79.20542 151.423068 
L 77.690318 162.931405 
L 77.184 174.528 
z
" clip-path="url(#p66e2880055)" style="fill: #b2dd2d; stroke: #b2dd2d; stroke-width: 0.6"/>
    <path clip-path="url(#p66e2880055)" style="fill: #c8e020; stroke: #c8e020; stroke-width: 0.6"/>
    <path clip-path="url(#p66e2880055)" style="fill: #dfe318; stroke: #dfe318; stroke-width: 0.6"/>
    <path clip-path="url(#p66e2880055)" style="fill: #f4e61e; stroke: #f4e61e; stroke-width: 0.6"/>
   </g>
   <g id="matplotlib.axis_1">
    <g id="xtick_1">
     <g id="line2d_1">
      <path d="M 210.6000 174.528 
L 210.6000 41.472 
" clip-path="url(#p66e2880055)" style="fill: none; stroke: #b0b0b0; stroke-width: 0.8; stroke-linecap: square"/>
     </g>
     <g id="text_1">
      <text style="font-size: 10px; letter-spacing: -0.15px; font-family: 'DejaVu Sans', 'Bitstream Vera Sans', 'Computer Modern Sans Serif', 'Lucida Grande', 'Verdana', 'Geneva', 'Lucid', 'Arial', 'Helvetica', 'Avant Garde', sans-serif; text-anchor: middle" x="210.6000" y="30.2314" transform="rotate(-0 210.6000 30.2314)">0°</text>
     </g>
    </g>
    <g id="xtick_2">
     <g id="line2d_2">
      <path d="M 210.24 174.528 
L 304.3248 80.4432 
" clip-path="url(#p66e2880055)" style="fill: none; stroke: #b0b0b0; stroke-width: 0.8; stroke-linecap: square"/>
     </g>
     <g id="text_2">
      <text style="font-size: 10px; letter-spacing: -0.15px; font-family: 'DejaVu Sans', 'Bitstream Vera Sans', 'Computer Modern Sans Serif', 'Lucida Grande', 'Verdana', 'Geneva', 'Lucid', 'Arial', 'Helvetica', 'Avant Garde', sans-serif; text-anchor: middle" x="314.4043" y="73.3031" transform="rotate(-0 314.4043 73.3031)">45°</text>
     </g>
    </g>
    <g id="xtick_3">
     <g id="line2d_3">
      <path d="M 210.24 174.6000 
L 343.296 174.6000 
" clip-path="url(#p66e2880055)" style="fill: none; stroke: #b0b0b0; stroke-width: 0.8; stroke-linecap: square"/>
     </g>
     <g id="text_3">
      <text style="font-size: 10px; letter-spacing: -0.15px; font-family: 'DejaVu Sans', 'Bitstream Vera Sans', 'Computer Modern Sans Serif', 'Lucida Grande', 'Verdana', 'Geneva', 'Lucid', 'Arial', 'Helvetica', 'Avant Garde', sans-serif; text-anchor: middle" x="357.6560" y="177.2874" transform="rotate(-0 357.6560 177.2874)">90°</text>
     </g>
    </g>
    <g id="xtick_4">
     <g id="line2d_4">
      <path d="M 210.24 174.528 
L 304.3248 268.6128 
" clip-path="url(#p66e2880055)" style="fill: none; stroke: #b0b0b0; stroke-width: 0.8; stroke-linecap: square"/>
     </g>
     <g id="text_4">
      <text style="font-size: 10px; letter-spacing: -0.15px; font-family: 'DejaVu Sans', 'Bitstream Vera Sans', 'Computer Modern Sans Serif', 'Lucida Grande', 'Verdana', 'Geneva', 'Lucid', 'Arial', 'Helvetica', 'Avant Garde', sans-serif; text-anchor: middle" x="313.8643" y="281.2717" transform="rotate(-0 313.8643 281.2717)">135°</text>
     </g>
    </g>
    <g id="xtick_5">
     <g id="line2d_5">
      <path d="M 210.6000 174.528 
L 210.6000 307.584 
" clip-path="url(#p66e2880055)" style="fill: none; stroke: #b0b0b0; stroke-width: 0.8; stroke-linecap: square"/>
     </g>
     <g id="text_5">
      <text style="font-size: 10px; letter-spacing: -0.15px; font-family: 'DejaVu Sans', 'Bitstream Vera Sans', 'Computer Modern Sans Serif', 'Lucida Grande', 'Verdana', 'Geneva', 'Lucid', 'Arial', 'Helvetica', 'Avant Garde', sans-serif; text-anchor: middle" x="210.0600" y="325.0634" transform="rotate(-0 210.0600 325.0634)">180°</text>
     </g>
    </g>
    <g id="xtick_6">
     <g id="line2d_6">
      <path d="M 210.24 174.528 
L 116.1552 268.6128 
" clip-path="url(#p66e2880055)" style="fill: none; stroke: #b0b0b0; stroke-width: 0.8; stroke-linecap: square"/>
     </g>
     <g id="text_6">
      <text style="font-size: 10px; letter-spacing: -0.15px; font-family: 'DejaVu Sans', 'Bitstream Vera Sans', 'Computer Modern Sans Serif', 'Lucida Grande', 'Verdana', 'Geneva', 'Lucid', 'Arial', 'Helvetica', 'Avant Garde', sans-serif; text-anchor: middle" x="106.0757" y="281.2717" transform="rotate(-0 106.0757 281.2717)">225°</text>
     </g>
    </g>
    <g id="xtick_7">
     <g id="line2d_7">
      <path d="M 210.24 174.6000 
L 77.184 174.6000 
" clip-path="url(#p66e2880055)" style="fill: none; stroke: #b0b0b0; stroke-width: 0.8; stroke-linecap: square"/>
     </g>
     <g id="text_7">
      <text style="font-size: 10px; letter-spacing: -0.15px; font-family: 'DejaVu Sans', 'Bitstream Vera Sans', 'Computer Modern Sans Serif', 'Lucida Grande', 'Verdana', 'Geneva', 'Lucid', 'Arial', 'Helvetica', 'Avant Garde', sans-serif; text-anchor: middle" x="63.0040" y="177.2874" transform="rotate(-0 63.0040 177.2874)">270°</text>
     </g>
    </g>
    <g id="xtick_8">
     <g id="line2d_8">
      <path d="M 210.24 174.528 
L 116.1552 80.4432 
" clip-path="url(#p66e2880055)" style="fill: none; stroke: #b0b0b0; stroke-width: 0.8; stroke-linecap: square"/>
     </g>
     <g id="text_8">
      <text style="font-size: 10px; letter-spacing: -0.15px; font-family: 'DejaVu Sans', 'Bitstream Vera Sans', 'Computer Modern Sans Serif', 'Lucida Grande', 'Verdana', 'Geneva', 'Lucid', 'Arial', 'Helvetica', 'Avant Garde', sans-serif; text-anchor: middle" x="105.7157" y="73.3031" transform="rotate(-0 105.7157 73.3031)">315°</text>
     </g>
    </g>
   </g>
   <g id="matplotlib.axis_2">
    <g id="ytick_1">
     <g id="line2d_9">
      <path d="M 210.24 159.744 
C 212.181417 159.744 214.103956 160.126417 215.897592 160.869365 
C 217.691227 161.612313 219.321077 162.701344 220.693867 164.074133 
C 222.066656 165.446923 223.155687 167.076773 223.898635 168.870408 
C 224.641583 170.664044 225.024 172.586583 225.024 174.528 
C 225.024 176.469417 224.641583 178.391956 223.898635 180.185592 
C 223.155687 181.979227 222.066656 183.609077 220.693867 184.981867 
C 219.321077 186.354656 217.691227 187.443687 215.897592 188.186635 
C 214.103956 188.929583 212.181417 189.312 210.24 189.312 
C 208.298583 189.312 206.376044 188.929583 204.582408 188.186635 
C 202.788773 187.443687 201.158923 186.354656 199.786133 184.981867 
C 198.413344 183.609077 197.324313 181.979227 196.581365 180.185592 
C 195.838417 178.391956 195.456 176.469417 195.456 174.528 
C 195.456 172.586583 195.838417 170.664044 196.581365 168.870408 
C 197.324313 167.076773 198.413344 165.446923 199.786133 164.074133 
C 201.158923 162.701344 202.788773 161.612313 204.582408 160.869365 
C 206.376044 160.126417 208.298583 159.744 210.24 159.744 
" clip-path="url(#p66e2880055)" style="fill: none; stroke: #b0b0b0; stroke-width: 0.8; stroke-linecap: square"/>
     </g>
     <g id="text_9">
      <text style="font-size: 10px; letter-spacing: -0.15px; font-family: 'DejaVu Sans', 'Bitstream Vera Sans', 'Computer Modern Sans Serif', 'Lucida Grande', 'Verdana', 'Geneva', 'Lucid', 'Arial', 'Helvetica', 'Avant Garde', sans-serif; text-anchor: start" x="215.5376" y="158.0697" transform="rotate(-0 215.5376 158.0697)">10</text>
     </g>
    </g>
    <g id="ytick_2">
     <g id="line2d_10">
      <path d="M 210.24 144.96 
C 214.122834 144.96 217.967913 145.724834 221.555184 147.21073 
C 225.142455 148.696626 228.402155 150.874688 231.147733 153.620267 
C 233.893312 156.365845 236.071374 159.625545 237.55727 163.212816 
C 239.043166 166.800087 239.808 170.645166 239.808 174.528 
C 239.808 178.410834 239.043166 182.255913 237.55727 185.843184 
C 236.071374 189.430455 233.893312 192.690155 231.147733 195.435733 
C 228.402155 198.181312 225.142455 200.359374 221.555184 201.84527 
C 217.967913 203.331166 214.122834 204.096 210.24 204.096 
C 206.357166 204.096 202.512087 203.331166 198.924816 201.84527 
C 195.337545 200.359374 192.077845 198.181312 189.332267 195.435733 
C 186.586688 192.690155 184.408626 189.430455 182.92273 185.843184 
C 181.436834 182.255913 180.672 178.410834 180.672 174.528 
C 180.672 170.645166 181.436834 166.800087 182.92273 163.212816 
C 184.408626 159.625545 186.586688 156.365845 189.332267 153.620267 
C 192.077845 150.874688 195.337545 148.696626 198.924816 147.21073 
C 202.512087 145.724834 206.357166 144.96 210.24 144.96 
" clip-path="url(#p66e2880055)" style="fill: none; stroke: #b0b0b0; stroke-width: 0.8; stroke-linecap: square"/>
     </g>
     <g id="text_10">
      <text style="font-size: 10px; letter-spacing: -0.15px; font-family: 'DejaVu Sans', 'Bitstream Vera Sans', 'Computer Modern Sans Serif', 'Lucida Grande', 'Verdana', 'Geneva', 'Lucid', 'Arial', 'Helvetica', 'Avant Garde', sans-serif; text-anchor: start" x="221.7352" y="144.4110" transform="rotate(-0 221.7352 144.4110)">20</text>
     </g>
    </g>
    <g id="ytick_3">
     <g id="line2d_11">
      <path d="M 210.24 130.176 
C 216.064251 130.176 221.831869 131.323251 227.212776 133.552095 
C 232.593682 135.780939 237.483232 139.048032 241.6016 143.1664 
C 245.719968 147.284768 248.987061 152.174318 251.215905 157.555224 
C 253.444749 162.936131 254.592 168.703749 254.592 174.528 
C 254.592 180.352251 253.444749 186.119869 251.215905 191.500776 
C 248.987061 196.881682 245.719968 201.771232 241.6016 205.8896 
C 237.483232 210.007968 232.593682 213.275061 227.212776 215.503905 
C 221.831869 217.732749 216.064251 218.88 210.24 218.88 
C 204.415749 218.88 198.648131 217.732749 193.267224 215.503905 
C 187.886318 213.275061 182.996768 210.007968 178.8784 205.8896 
C 174.760032 201.771232 171.492939 196.881682 169.264095 191.500776 
C 167.035251 186.119869 165.888 180.352251 165.888 174.528 
C 165.888 168.703749 167.035251 162.936131 169.264095 157.555224 
C 171.492939 152.174318 174.760032 147.284768 178.8784 143.1664 
C 182.996768 139.048032 187.886318 135.780939 193.267224 133.552095 
C 198.648131 131.323251 204.415749 130.176 210.24 130.176 
" clip-path="url(#p66e2880055)" style="fill: none; stroke: #b0b0b0; stroke-width: 0.8; stroke-linecap: square"/>
     </g>
     <g id="text_11">
      <text style="font-size: 10px; letter-spacing: -0.15px; font-family: 'DejaVu Sans', 'Bitstream Vera Sans', 'Computer Modern Sans Serif', 'Lucida Grande', 'Verdana', 'Geneva', 'Lucid', 'Arial', 'Helvetica', 'Avant Garde', sans-serif; text-anchor: start" x="227.0328" y="130.7524" transform="rotate(-0 227.0328 130.7524)">30</text>
     </g>
    </g>
    <g id="ytick_4">
     <g id="line2d_12">
      <path d="M 210.24 115.392 
C 218.005668 115.392 225.695825 116.921667 232.870367 119.89346 
C 240.04491 122.865253 246.56431 127.221377 252.055467 132.712533 
C 257.546623 138.20369 261.902747 144.72309 264.87454 151.897633 
C 267.846333 159.072175 269.376 166.762332 269.376 174.528 
C 269.376 182.293668 267.846333 189.983825 264.87454 197.158367 
C 261.902747 204.33291 257.546623 210.85231 252.055467 216.343467 
C 246.56431 221.834623 240.04491 226.190747 232.870367 229.16254 
C 225.695825 232.134333 218.005668 233.664 210.24 233.664 
C 202.474332 233.664 194.784175 232.134333 187.609633 229.16254 
C 180.43509 226.190747 173.91569 221.834623 168.424533 216.343467 
C 162.933377 210.85231 158.577253 204.33291 155.60546 197.158367 
C 152.633667 189.983825 151.104 182.293668 151.104 174.528 
C 151.104 166.762332 152.633667 159.072175 155.60546 151.897633 
C 158.577253 144.72309 162.933377 138.20369 168.424533 132.712533 
C 173.91569 127.221377 180.43509 122.865253 187.609633 119.89346 
C 194.784175 116.921667 202.474332 115.392 210.24 115.392 
" clip-path="url(#p66e2880055)" style="fill: none; stroke: #b0b0b0; stroke-width: 0.8; stroke-linecap: square"/>
     </g>
     <g id="text_12">
      <text style="font-size: 10px; letter-spacing: -0.15px; font-family: 'DejaVu Sans', 'Bitstream Vera Sans', 'Computer Modern Sans Serif', 'Lucida Grande', 'Verdana', 'Geneva', 'Lucid', 'Arial', 'Helvetica', 'Avant Garde', sans-serif; text-anchor: start" x="233.0504" y="117.8138" transform="rotate(-0 233.0504 117.8138)">40</text>
     </g>
    </g>
    <g id="ytick_5">
     <g id="line2d_13">
      <path d="M 210.24 100.608 
C 219.947085 100.608 229.559782 102.520084 238.527959 106.234825 
C 247.496137 109.949566 255.645387 115.394721 262.509333 122.258667 
C 269.373279 129.122613 274.818434 137.271863 278.533175 146.240041 
C 282.247916 155.208218 284.16 164.820915 284.16 174.528 
C 284.16 184.235085 282.247916 193.847782 278.533175 202.815959 
C 274.818434 211.784137 269.373279 219.933387 262.509333 226.797333 
C 255.645387 233.661279 247.496137 239.106434 238.527959 242.821175 
C 229.559782 246.535916 219.947085 248.448 210.24 248.448 
C 200.532915 248.448 190.920218 246.535916 181.952041 242.821175 
C 172.983863 239.106434 164.834613 233.661279 157.970667 226.797333 
C 151.106721 219.933387 145.661566 211.784137 141.946825 202.815959 
C 138.232084 193.847782 136.32 184.235085 136.32 174.528 
C 136.32 164.820915 138.232084 155.208218 141.946825 146.240041 
C 145.661566 137.271863 151.106721 129.122613 157.970667 122.258667 
C 164.834613 115.394721 172.983863 109.949566 181.952041 106.234825 
C 190.920218 102.520084 200.532915 100.608 210.24 100.608 
" clip-path="url(#p66e2880055)" style="fill: none; stroke: #b0b0b0; stroke-width: 0.8; stroke-linecap: square"/>
     </g>
     <g id="text_13">
      <text style="font-size: 10px; letter-spacing: -0.15px; font-family: 'DejaVu Sans', 'Bitstream Vera Sans', 'Computer Modern Sans Serif', 'Lucida Grande', 'Verdana', 'Geneva', 'Lucid', 'Arial', 'Helvetica', 'Avant Garde', sans-serif; text-anchor: start" x="237.9880" y="104.1551" transform="rotate(-0 237.9880 104.1551)">50</text>
     </g>
    </g>
    <g id="ytick_6">
     <g id="line2d_14">
      <path d="M 210.24 85.824 
C 221.888503 85.824 233.423738 88.118501 244.185551 92.57619 
C 254.947364 97.033879 264.726465 103.568065 272.9632 111.8048 
C 281.199935 120.041535 287.734121 129.820636 292.19181 140.582449 
C 296.649499 151.344262 298.944 162.879497 298.944 174.528 
C 298.944 186.176503 296.649499 197.711738 292.19181 208.473551 
C 287.734121 219.235364 281.199935 229.014465 272.9632 237.2512 
C 264.726465 245.487935 254.947364 252.022121 244.185551 256.47981 
C 233.423738 260.937499 221.888503 263.232 210.24 263.232 
C 198.591497 263.232 187.056262 260.937499 176.294449 256.47981 
C 165.532636 252.022121 155.753535 245.487935 147.5168 237.2512 
C 139.280065 229.014465 132.745879 219.235364 128.28819 208.473551 
C 123.830501 197.711738 121.536 186.176503 121.536 174.528 
C 121.536 162.879497 123.830501 151.344262 128.28819 140.582449 
C 132.745879 129.820636 139.280065 120.041535 147.5168 111.8048 
C 155.753535 103.568065 165.532636 97.033879 176.294449 92.57619 
C 187.056262 88.118501 198.591497 85.824 210.24 85.824 
" clip-path="url(#p66e2880055)" style="fill: none; stroke: #b0b0b0; stroke-width: 0.8; stroke-linecap: square"/>
     </g>
     <g id="text_14">
      <text style="font-size: 10px; letter-spacing: -0.15px; font-family: 'DejaVu Sans', 'Bitstream Vera Sans', 'Computer Modern Sans Serif', 'Lucida Grande', 'Verdana', 'Geneva', 'Lucid', 'Arial', 'Helvetica', 'Avant Garde', sans-serif; text-anchor: start" x="244.1856" y="90.4965" transform="rotate(-0 244.1856 90.4965)">60</text>
     </g>
    </g>
    <g id="ytick_7">
     <g id="line2d_15">
      <path d="M 210.24 71.04 
C 223.82992 71.04 237.287694 73.716918 249.843143 78.917555 
C 262.398592 84.118192 273.807542 91.741409 283.417067 101.350933 
C 293.026591 110.960458 300.649808 122.369408 305.850445 134.924857 
C 311.051082 147.480306 313.728 160.93808 313.728 174.528 
C 313.728 188.11792 311.051082 201.575694 305.850445 214.131143 
C 300.649808 226.686592 293.026591 238.095542 283.417067 247.705067 
C 273.807542 257.314591 262.398592 264.937808 249.843143 270.138445 
C 237.287694 275.339082 223.82992 278.016 210.24 278.016 
C 196.65008 278.016 183.192306 275.339082 170.636857 270.138445 
C 158.081408 264.937808 146.672458 257.314591 137.062933 247.705067 
C 127.453409 238.095542 119.830192 226.686592 114.629555 214.131143 
C 109.428918 201.575694 106.752 188.11792 106.752 174.528 
C 106.752 160.93808 109.428918 147.480306 114.629555 134.924857 
C 119.830192 122.369408 127.453409 110.960458 137.062933 101.350933 
C 146.672458 91.741409 158.081408 84.118192 170.636857 78.917555 
C 183.192306 73.716918 196.65008 71.04 210.24 71.04 
" clip-path="url(#p66e2880055)" style="fill: none; stroke: #b0b0b0; stroke-width: 0.8; stroke-linecap: square"/>
     </g>
     <g id="text_15">
      <text style="font-size: 10px; letter-spacing: -0.15px; font-family: 'DejaVu Sans', 'Bitstream Vera Sans', 'Computer Modern Sans Serif', 'Lucida Grande', 'Verdana', 'Geneva', 'Lucid', 'Arial', 'Helvetica', 'Avant Garde', sans-serif; text-anchor: start" x="249.4831" y="76.8379" transform="rotate(-0 249.4831 76.8379)">70</text>
     </g>
    </g>
    <g id="ytick_8">
     <g id="line2d_16">
      <path d="M 210.24 56.256 
C 225.771337 56.256 241.151651 59.315335 255.500735 65.25892 
C 269.849819 71.202505 282.88862 79.914753 293.870933 90.897067 
C 304.853247 101.87938 313.565495 114.918181 319.50908 129.267265 
C 325.452665 143.616349 328.512 158.996663 328.512 174.528 
C 328.512 190.059337 325.452665 205.439651 319.50908 219.788735 
C 313.565495 234.137819 304.853247 247.17662 293.870933 258.158933 
C 282.88862 269.141247 269.849819 277.853495 255.500735 283.79708 
C 241.151651 289.740665 225.771337 292.8 210.24 292.8 
C 194.708663 292.8 179.328349 289.740665 164.979265 283.79708 
C 150.630181 277.853495 137.59138 269.141247 126.609067 258.158933 
C 115.626753 247.17662 106.914505 234.137819 100.97092 219.788735 
C 95.027335 205.439651 91.968 190.059337 91.968 174.528 
C 91.968 158.996663 95.027335 143.616349 100.97092 129.267265 
C 106.914505 114.918181 115.626753 101.87938 126.609067 90.897067 
C 137.59138 79.914753 150.630181 71.202505 164.979265 65.25892 
C 179.328349 59.315335 194.708663 56.256 210.24 56.256 
" clip-path="url(#p66e2880055)" style="fill: none; stroke: #b0b0b0; stroke-width: 0.8; stroke-linecap: square"/>
     </g>
     <g id="text_16">
      <text style="font-size: 10px; letter-spacing: -0.15px; font-family: 'DejaVu Sans', 'Bitstream Vera Sans', 'Computer Modern Sans Serif', 'Lucida Grande', 'Verdana', 'Geneva', 'Lucid', 'Arial', 'Helvetica', 'Avant Garde', sans-serif; text-anchor: start" x="255.6807" y="63.1792" transform="rotate(-0 255.6807 63.1792)">80</text>
     </g>
    </g>
    <g id="ytick_9">
     <g id="line2d_17">
      <path d="M 210.24 41.472 
C 227.712754 41.472 245.015607 44.913752 261.158327 51.600285 
C 277.301046 58.286818 291.969697 68.088097 304.3248 80.4432 
C 316.679903 92.798303 326.481182 107.466954 333.167715 123.609673 
C 339.854248 139.752393 343.296 157.055246 343.296 174.528 
C 343.296 192.000754 339.854248 209.303607 333.167715 225.446327 
C 326.481182 241.589046 316.679903 256.257697 304.3248 268.6128 
C 291.969697 280.967903 277.301046 290.769182 261.158327 297.455715 
C 245.015607 304.142248 227.712754 307.584 210.24 307.584 
C 192.767246 307.584 175.464393 304.142248 159.321673 297.455715 
C 143.178954 290.769182 128.510303 280.967903 116.1552 268.6128 
C 103.800097 256.257697 93.998818 241.589046 87.312285 225.446327 
C 80.625752 209.303607 77.184 192.000754 77.184 174.528 
C 77.184 157.055246 80.625752 139.752393 87.312285 123.609673 
C 93.998818 107.466954 103.800097 92.798303 116.1552 80.4432 
C 128.510303 68.088097 143.178954 58.286818 159.321673 51.600285 
C 175.464393 44.913752 192.767246 41.472 210.24 41.472 
" clip-path="url(#p66e2880055)" style="fill: none; stroke: #b0b0b0; stroke-width: 0.8; stroke-linecap: square"/>
     </g>
     <g id="text_17">
      <text style="font-size: 10px; letter-spacing: -0.15px; font-family: 'DejaVu Sans', 'Bitstream Vera Sans', 'Computer Modern Sans Serif', 'Lucida Grande', 'Verdana', 'Geneva', 'Lucid', 'Arial', 'Helvetica', 'Avant Garde', sans-serif; text-anchor: start" x="261.6983" y="49.5206" transform="rotate(-0 261.6983 49.5206)">90</text>
     </g>
    </g>
   </g>
   <g id="patch_3">
    <path d="M 210.24 41.472 
C 192.767246 41.472 175.464393 44.913752 159.321673 51.600285 
C 143.178954 58.286818 128.510303 68.088097 116.1552 80.4432 
C 103.800097 92.798303 93.998818 107.466954 87.312285 123.609673 
C 80.625752 139.752393 77.184 157.055246 77.184 174.528 
C 77.184 192.000754 80.625752 209.303607 87.312285 225.446327 
C 93.998818 241.589046 103.800097 256.257697 116.1552 268.6128 
C 128.510303 280.967903 143.178954 290.769182 159.321673 297.455715 
C 175.464393 304.142248 192.767246 307.584 210.24 307.584 
C 227.712754 307.584 245.015607 304.142248 261.158327 297.455715 
C 277.301046 290.769182 291.969697 280.967903 304.3248 268.6128 
C 316.679903 256.257697 326.481182 241.589046 333.167715 225.446327 
C 339.854248 209.303607 343.296 192.000754 343.296 174.528 
C 343.296 157.055246 339.854248 139.752393 333.167715 123.609673 
C 326.481182 107.466954 316.679903 92.798303 304.3248 80.4432 
C 291.969697 68.088097 277.301046 58.286818 261.158327 51.600285 
C 245.015607 44.913752 227.712754 41.472 210.24 41.472 
" style="fill: none; stroke: #000000; stroke-width: 0.8; stroke-linejoin: miter; stroke-linecap: square"/>
   </g>
   <g id="text_18">
    <text style="font-size: 12px; font-family: 'DejaVu Sans', 'Bitstream Vera Sans', 'Computer Modern Sans Serif', 'Lucida Grande', 'Verdana', 'Geneva', 'Lucid', 'Arial', 'Helvetica', 'Avant Garde', sans-serif; text-anchor: middle" x="210.6000" y="16.6329" transform="translate(0 16.6329) scale(1 1) translate(0 -16.6329)">Antenna Phase Biases: NOV503+CR       SPKE GPS-L2</text>
   </g>
  </g>
  <g id="axes_2">
   <g id="patch_4">
    <path d="M 361.152 307.584 
L 374.4576 307.584 
L 374.4576 41.472 
L 361.152 41.472 
z
" style="fill: #ffffff"/>
   </g>
   <g id="QuadMesh_1" shape-rendering="crispEdges">
<rect x="361.4400" y="298.8000" width="13.3200" height="9.0000" fill="#46075a"/>
<rect x="361.4400" y="290.1600" width="13.3200" height="8.6400" fill="#471365"/>
<rect x="361.4400" y="280.8000" width="13.3200" height="9.3600" fill="#481f70"/>
<rect x="361.4400" y="272.1600" width="13.3200" height="8.6400" fill="#482979"/>
<rect x="361.4400" y="263.5200" width="13.3200" height="8.6400" fill="#463480"/>
<rect x="361.4400" y="254.1600" width="13.3200" height="9.3600" fill="#433e85"/>
<rect x="361.4400" y="245.5200" width="13.3200" height="8.6400" fill="#3f4889"/>
<rect x="361.4400" y="236.8800" width="13.3200" height="8.6400" fill="#3b528b"/>
<rect x="361.4400" y="227.5200" width="13.3200" height="9.3600" fill="#375b8d"/>
<rect x="361.4400" y="218.8800" width="13.3200" height="8.6400" fill="#32648e"/>
<rect x="361.4400" y="210.2400" width="13.3200" height="8.6400" fill="#2f6c8e"/>
<rect x="361.4400" y="200.8800" width="13.3200" height="9.3600" fill="#2b748e"/>
<rect x="361.4400" y="192.2400" width="13.3200" height="8.6400" fill="#287c8e"/>
<rect x="361.4400" y="183.6000" width="13.3200" height="8.6400" fill="#25848e"/>
<rect x="361.4400" y="174.2400" width="13.3200" height="9.3600" fill="#228c8d"/>
<rect x="361.4400" y="165.6000" width="13.3200" height="8.6400" fill="#1f948c"/>
<rect x="361.4400" y="156.9600" width="13.3200" height="8.6400" fill="#1e9c89"/>
<rect x="361.4400" y="147.6000" width="13.3200" height="9.3600" fill="#20a486"/>
<rect x="361.4400" y="138.9600" width="13.3200" height="8.6400" fill="#25ac82"/>
<rect x="361.4400" y="130.3200" width="13.3200" height="8.6400" fill="#2fb47c"/>
<rect x="361.4400" y="120.9600" width="13.3200" height="9.3600" fill="#3bbb75"/>
<rect x="361.4400" y="112.3200" width="13.3200" height="8.6400" fill="#4cc26c"/>
<rect x="361.4400" y="103.6800" width="13.3200" height="8.6400" fill="#5ec962"/>
<rect x="361.4400" y="95.0400" width="13.3200" height="8.6400" fill="#70cf57"/>
<rect x="361.4400" y="85.6800" width="13.3200" height="9.3600" fill="#86d549"/>
<rect x="361.4400" y="77.0400" width="13.3200" height="8.6400" fill="#9bd93c"/>
<rect x="361.4400" y="68.4000" width="13.3200" height="8.6400" fill="#b2dd2d"/>
<rect x="361.4400" y="59.0400" width="13.3200" height="9.3600" fill="#c8e020"/>
<rect x="361.4400" y="50.4000" width="13.3200" height="8.6400" fill="#dfe318"/>
<rect x="361.4400" y="41.7600" width="13.3200" height="8.6400" fill="#f4e61e"/>
</g>
   <g id="matplotlib.axis_3"/>
   <g id="matplotlib.axis_4">
    <g id="ytick_10">
     <g id="line2d_18">
      <defs>
       <path id="m31a5aabf5c" d="M 0 0 
L 3.5 0 
" style="stroke: #000000; stroke-width: 0.8"/>
      </defs>
      <g>
       <use xlink:href="#m31a5aabf5c" x="374.7600" y="281.1600" style="stroke: #000000; stroke-width: 0.8"/>
      </g>
     </g>
     <g id="text_19">
      <text style="font-size: 10px; letter-spacing: -0.15px; font-family: 'DejaVu Sans', 'Bitstream Vera Sans', 'Computer Modern Sans Serif', 'Lucida Grande', 'Verdana', 'Geneva', 'Lucid', 'Arial', 'Helvetica', 'Avant Garde', sans-serif; text-anchor: start" x="381.0976" y="284.7720" transform="rotate(-0 381.0976 284.7720)">−12</text>
     </g>
    </g>
    <g id="ytick_11">
     <g id="line2d_19">
      <g>
       <use xlink:href="#m31a5aabf5c" x="374.7600" y="245.8800" style="stroke: #000000; stroke-width: 0.8"/>
      </g>
     </g>
     <g id="text_20">
      <text style="font-size: 10px; letter-spacing: -0.15px; font-family: 'DejaVu Sans', 'Bitstream Vera Sans', 'Computer Modern Sans Serif', 'Lucida Grande', 'Verdana', 'Geneva', 'Lucid', 'Arial', 'Helvetica', 'Avant Garde', sans-serif; text-anchor: start" x="381.0976" y="249.2904" transform="rotate(-0 381.0976 249.2904)">−8</text>
     </g>
    </g>
    <g id="ytick_12">
     <g id="line2d_20">
      <g>
       <use xlink:href="#m31a5aabf5c" x="374.7600" y="210.6000" style="stroke: #000000; stroke-width: 0.8"/>
      </g>
     </g>
     <g id="text_21">
      <text style="font-size: 10px; letter-spacing: -0.15px; font-family: 'DejaVu Sans', 'Bitstream Vera Sans', 'Computer Modern Sans Serif', 'Lucida Grande', 'Verdana', 'Geneva', 'Lucid', 'Arial', 'Helvetica', 'Avant Garde', sans-serif; text-anchor: start" x="381.0976" y="213.8088" transform="rotate(-0 381.0976 213.8088)">−4</text>
     </g>
    </g>
    <g id="ytick_13">
     <g id="line2d_21">
      <g>
       <use xlink:href="#m31a5aabf5c" x="374.7600" y="174.6000" style="stroke: #000000; stroke-width: 0.8"/>
      </g>
     </g>
     <g id="text_22">
      <text style="font-size: 10px; letter-spacing: -0.15px; font-family: 'DejaVu Sans', 'Bitstream Vera Sans', 'Computer Modern Sans Serif', 'Lucida Grande', 'Verdana', 'Geneva', 'Lucid', 'Arial', 'Helvetica', 'Avant Garde', sans-serif; text-anchor: start" x="382.3576" y="178.3272" transform="rotate(-0 382.3576 178.3272)">0</text>
     </g>
    </g>
    <g id="ytick_14">
     <g id="line2d_22">
      <g>
       <use xlink:href="#m31a5aabf5c" x="374.7600" y="139.3200" style="stroke: #000000; stroke-width: 0.8"/>
      </g>
     </g>
     <g id="text_23">
      <text style="font-size: 10px; letter-spacing: -0.15px; font-family: 'DejaVu Sans', 'Bitstream Vera Sans', 'Computer Modern Sans Serif', 'Lucida Grande', 'Verdana', 'Geneva', 'Lucid', 'Arial', 'Helvetica', 'Avant Garde', sans-serif; text-anchor: start" x="381.6376" y="143.5656" transform="rotate(-0 381.6376 143.5656)">4</text>
     </g>
    </g>
    <g id="ytick_15">
     <g id="line2d_23">
      <g>
       <use xlink:href="#m31a5aabf5c" x="374.7600" y="104.0400" style="stroke: #000000; stroke-width: 0.8"/>
      </g>
     </g>
     <g id="text_24">
      <text style="font-size: 10px; letter-spacing: -0.15px; font-family: 'DejaVu Sans', 'Bitstream Vera Sans', 'Computer Modern Sans Serif', 'Lucida Grande', 'Verdana', 'Geneva', 'Lucid', 'Arial', 'Helvetica', 'Avant Garde', sans-serif; text-anchor: start" x="381.6376" y="107.3640" transform="rotate(-0 381.6376 107.3640)">8</text>
     </g>
    </g>
    <g id="ytick_16">
     <g id="line2d_24">
      <g>
       <use xlink:href="#m31a5aabf5c" x="374.7600" y="68.7600" style="stroke: #000000; stroke-width: 0.8"/>
      </g>
     </g>
     <g id="text_25">
      <text style="font-size: 10px; letter-spacing: -0.15px; font-family: 'DejaVu Sans', 'Bitstream Vera Sans', 'Computer Modern Sans Serif', 'Lucida Grande', 'Verdana', 'Geneva', 'Lucid', 'Arial', 'Helvetica', 'Avant Garde', sans-serif; text-anchor: start" x="381.2776" y="71.8824" transform="rotate(-0 381.2776 71.8824)">12</text>
     </g>
    </g>
    <g id="text_26">
     <text style="font-size: 10px; font-family: 'DejaVu Sans', 'Bitstream Vera Sans', 'Computer Modern Sans Serif', 'Lucida Grande', 'Verdana', 'Geneva', 'Lucid', 'Arial', 'Helvetica', 'Avant Garde', sans-serif; text-anchor: middle" x="414.1607" y="175.0680" transform="rotate(-90 414.1607 175.0680)">Bias (mm)</text>
    </g>
   </g>
   <g id="LineCollection_1"/>
   <g id="patch_5">
<path d="M 361.8000 307.8000 L 374.7600 307.8000 L 374.7600 42.1200 L 361.8000 42.1200 z" style="fill: none; stroke: #000000; stroke-width: 0.8; stroke-linejoin: miter; stroke-linecap: square"/>
</g>
  </g>
 </g>
 <defs>
  <clipPath id="p66e2880055">
   <path d="M 343.296 174.528 
C 343.296 157.055246 339.854248 139.752393 333.167715 123.609673 
C 326.481182 107.466954 316.679903 92.798303 304.3248 80.4432 
C 291.969697 68.088097 277.301046 58.286818 261.158327 51.600285 
C 245.015607 44.913752 227.712754 41.472 210.24 41.472 
C 192.767246 41.472 175.464393 44.913752 159.321673 51.600285 
C 143.178954 58.286818 128.510303 68.088097 116.1552 80.4432 
C 103.800097 92.798303 93.998818 107.466954 87.312285 123.609673 
C 80.625752 139.752393 77.184 157.055246 77.184 174.528 
C 77.184 192.000754 80.625752 209.303607 87.312285 225.446327 
C 93.998818 241.589046 103.800097 256.257697 116.1552 268.6128 
C 128.510303 280.967903 143.178954 290.769182 159.321673 297.455715 
C 175.464393 304.142248 192.767246 307.584 210.24 307.584 
C 227.712754 307.584 245.015607 304.142248 261.158327 297.455715 
C 277.301046 290.769182 291.969697 280.967903 304.3248 268.6128 
C 316.679903 256.257697 326.481182 241.589046 333.167715 225.446327 
C 339.854248 209.303607 343.296 192.000754 343.296 174.528 
M 210.24 174.528 
C 210.24 174.528 210.24 174.528 210.24 174.528 
C 210.24 174.528 210.24 174.528 210.24 174.528 
C 210.24 174.528 210.24 174.528 210.24 174.528 
C 210.24 174.528 210.24 174.528 210.24 174.528 
C 210.24 174.528 210.24 174.528 210.24 174.528 
C 210.24 174.528 210.24 174.528 210.24 174.528 
C 210.24 174.528 210.24 174.528 210.24 174.528 
C 210.24 174.528 210.24 174.528 210.24 174.528 
C 210.24 174.528 210.24 174.528 210.24 174.528 
C 210.24 174.528 210.24 174.528 210.24 174.528 
C 210.24 174.528 210.24 174.528 210.24 174.528 
C 210.24 174.528 210.24 174.528 210.24 174.528 
C 210.24 174.528 210.24 174.528 210.24 174.528 
C 210.24 174.528 210.24 174.528 210.24 174.528 
C 210.24 174.528 210.24 174.528 210.24 174.528 
C 210.24 174.528 210.24 174.528 210.24 174.528 
z
"/>
  </clipPath>
  <clipPath id="pb9d23dcdd8">
   <rect x="361.152" y="41.472" width="13.3056" height="266.112"/>
  </clipPath>
 </defs>
</svg>

</body></html>
